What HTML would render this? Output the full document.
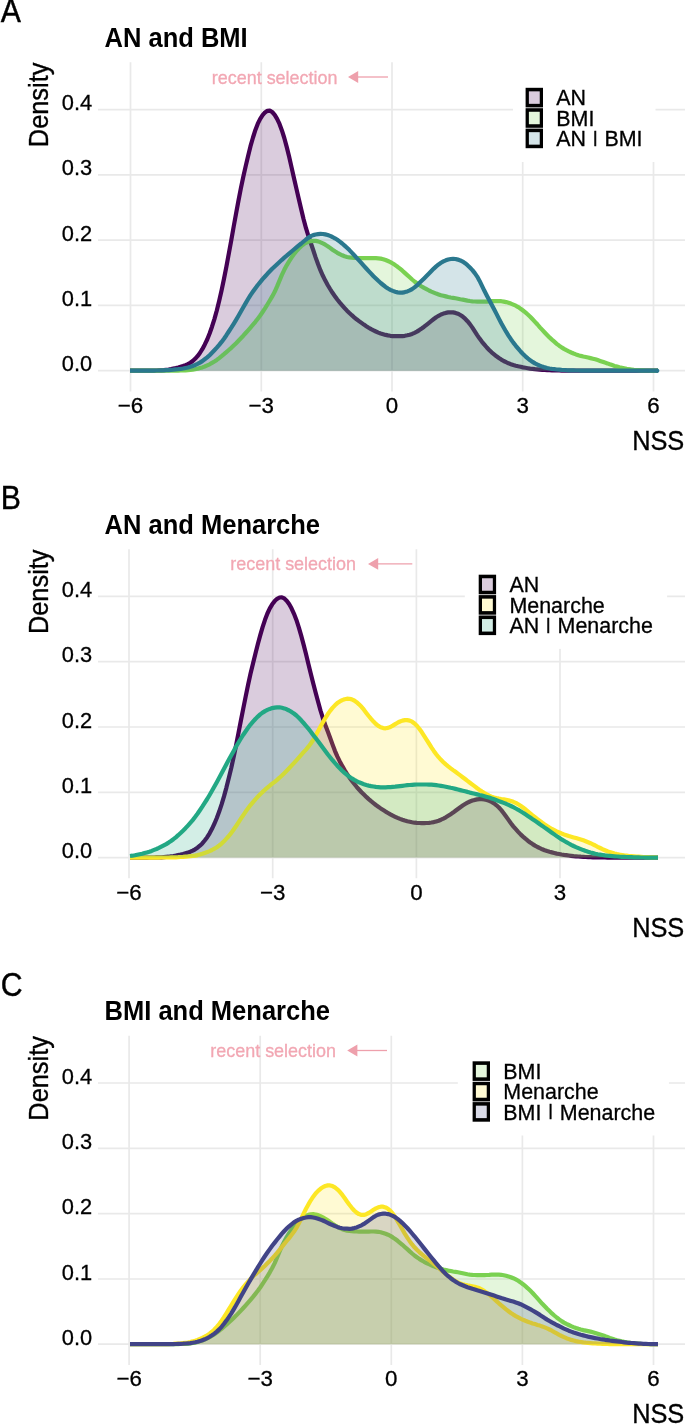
<!DOCTYPE html>
<html lang="en"><head><meta charset="utf-8"><title>NSS density</title>
<style>
html,body{margin:0;padding:0;background:#fff}
svg{display:block}
text{font-family:"Liberation Sans","Helvetica Neue",Helvetica,Arial,sans-serif;fill:#000}
.tk{font-size:22.3px;stroke:#000;stroke-width:.3px}
.ax{font-size:27px;stroke:#000;stroke-width:.35px}
.tt{font-size:27.3px;font-weight:bold}
.tg{font-size:32.5px;stroke:#000;stroke-width:.4px}
.an{font-size:19px;fill:#F2A7B3;stroke:#F2A7B3;stroke-width:.3px}
.lg{font-size:22px;stroke:#000;stroke-width:.3px}
.bar{font-size:16.2px;stroke:#000;stroke-width:.6px}
.grid line{stroke:#E9E9E9;stroke-width:1.7}
.ln{fill:none;stroke-width:4.2;stroke-linejoin:round;stroke-linecap:butt}
.ar{fill-opacity:.2;stroke:none}
.key{stroke:#000;stroke-width:3.5}
</style></head><body>
<svg width="685" height="1424" viewBox="0 0 685 1424">
<rect width="685" height="1424" fill="#fff"/>

<g id="panelA">
<text class="tg" transform="translate(0.8,22.3) scale(0.93,1)">A</text>
<text class="tt" transform="translate(104.6,46.9) scale(0.935,1)">AN and BMI</text>
<g class="grid"><line x1="130.5" x2="130.5" y1="62.3" y2="391.4"/><line x1="261.3" x2="261.3" y1="62.3" y2="391.4"/><line x1="392.0" x2="392.0" y1="62.3" y2="391.4"/><line x1="522.7" x2="522.7" y1="62.3" y2="391.4"/><line x1="653.5" x2="653.5" y1="62.3" y2="391.4"/><line x1="98" x2="685" y1="370.7" y2="370.7"/><line x1="98" x2="685" y1="305.4" y2="305.4"/><line x1="98" x2="685" y1="240.2" y2="240.2"/><line x1="98" x2="685" y1="174.9" y2="174.9"/><line x1="98" x2="685" y1="109.7" y2="109.7"/></g>
<text class="tk" text-anchor="end" transform="translate(92.2,371.2) scale(0.98,1)">0.0</text>
<text class="tk" text-anchor="end" transform="translate(92.2,305.9) scale(0.98,1)">0.1</text>
<text class="tk" text-anchor="end" transform="translate(92.2,240.7) scale(0.98,1)">0.2</text>
<text class="tk" text-anchor="end" transform="translate(92.2,175.4) scale(0.98,1)">0.3</text>
<text class="tk" text-anchor="end" transform="translate(92.2,110.2) scale(0.98,1)">0.4</text>
<text class="tk" text-anchor="middle" transform="translate(130.5,412.6)">−6</text>
<text class="tk" text-anchor="middle" transform="translate(261.3,412.6)">−3</text>
<text class="tk" text-anchor="middle" transform="translate(392.0,412.6)">0</text>
<text class="tk" text-anchor="middle" transform="translate(522.7,412.6)">3</text>
<text class="tk" text-anchor="middle" transform="translate(653.5,412.6)">6</text>
<text class="ax" text-anchor="end" transform="translate(48.0,62.6) rotate(-90) scale(0.94,1)">Density</text>
<text class="ax" text-anchor="end" transform="translate(684.3,449.6) scale(0.94,1)">NSS</text>
<text class="an" transform="translate(211.8,83.5) scale(0.945,1)">recent selection</text>
<path d="M357,77.0 H388" stroke="#EEA0AC" stroke-width="1.3" fill="none"/>
<path d="M348,77.0 L358.2,71.1 V82.9 Z" fill="#EEA0AC"/>
<path class="ar" fill="#440154" d="M130.0,370.7 L132.4,370.7 L134.8,370.7 L137.2,370.7 L139.6,370.7 L142.1,370.7 L144.5,370.7 L146.9,370.7 L149.3,370.6 L151.7,370.6 L154.1,370.6 L156.5,370.5 L158.9,370.4 L161.3,370.3 L163.8,370.1 L166.2,369.8 L168.6,369.5 L171.0,369.1 L173.4,368.6 L175.8,368.1 L178.2,367.5 L180.6,366.8 L183.0,366.1 L185.5,365.2 L187.9,364.1 L190.3,362.7 L192.7,361.0 L195.1,358.8 L197.5,356.2 L199.9,353.0 L202.3,349.2 L204.7,344.7 L207.2,339.5 L209.6,333.5 L212.0,326.7 L214.4,319.1 L216.8,310.5 L219.2,300.8 L221.6,290.2 L224.0,278.8 L226.4,266.6 L228.8,253.6 L231.3,240.1 L233.7,226.5 L236.1,213.3 L238.5,200.5 L240.9,188.2 L243.3,176.8 L245.7,166.1 L248.1,155.9 L250.5,146.2 L253.0,137.5 L255.4,129.9 L257.8,123.7 L260.2,118.8 L262.6,115.1 L265.0,112.4 L267.4,110.8 L269.8,110.6 L272.2,112.0 L274.7,114.8 L277.1,118.8 L279.5,123.9 L281.9,130.4 L284.3,138.0 L286.7,146.9 L289.1,156.6 L291.5,167.1 L293.9,177.8 L296.4,188.6 L298.8,199.0 L301.2,209.2 L303.6,219.2 L306.0,228.2 L308.4,236.0 L310.8,243.0 L313.2,250.0 L315.6,257.4 L318.1,264.3 L320.5,270.4 L322.9,275.8 L325.3,280.6 L327.7,285.0 L330.1,289.0 L332.5,292.8 L334.9,296.2 L337.3,299.5 L339.8,302.6 L342.2,305.4 L344.6,308.1 L347.0,310.7 L349.4,313.0 L351.8,315.2 L354.2,317.3 L356.6,319.3 L359.0,321.1 L361.5,322.9 L363.9,324.6 L366.3,326.2 L368.7,327.7 L371.1,329.1 L373.5,330.3 L375.9,331.5 L378.3,332.6 L380.7,333.5 L383.2,334.2 L385.6,334.9 L388.0,335.4 L390.4,335.8 L392.8,336.1 L395.2,336.2 L397.6,336.2 L400.0,336.2 L402.4,336.1 L404.8,335.8 L407.3,335.3 L409.7,334.7 L412.1,333.9 L414.5,332.8 L416.9,331.6 L419.3,330.1 L421.7,328.5 L424.1,326.7 L426.5,324.8 L429.0,322.8 L431.4,320.9 L433.8,319.0 L436.2,317.2 L438.6,315.8 L441.0,314.5 L443.4,313.6 L445.8,312.9 L448.2,312.4 L450.7,312.3 L453.1,312.4 L455.5,312.9 L457.9,313.7 L460.3,315.0 L462.7,316.6 L465.1,318.7 L467.5,321.2 L469.9,324.1 L472.4,327.6 L474.8,331.4 L477.2,335.1 L479.6,338.6 L482.0,341.8 L484.4,344.7 L486.8,347.5 L489.2,350.0 L491.6,352.3 L494.1,354.3 L496.5,356.3 L498.9,358.0 L501.3,359.6 L503.7,361.0 L506.1,362.2 L508.5,363.3 L510.9,364.2 L513.3,365.0 L515.8,365.7 L518.2,366.3 L520.6,366.8 L523.0,367.4 L525.4,367.8 L527.8,368.2 L530.2,368.6 L532.6,368.9 L535.0,369.2 L537.5,369.4 L539.9,369.6 L542.3,369.8 L544.7,370.0 L547.1,370.1 L549.5,370.2 L551.9,370.3 L554.3,370.4 L556.7,370.5 L559.2,370.5 L561.6,370.6 L564.0,370.6 L566.4,370.7 L568.8,370.7 L571.2,370.7 L573.6,370.7 L576.0,370.7 L578.4,370.7 L580.8,370.7 L583.3,370.7 L585.7,370.7 L588.1,370.7 L590.5,370.7 L592.9,370.7 L595.3,370.7 L597.7,370.7 L600.1,370.7 L602.5,370.7 L605.0,370.7 L607.4,370.7 L609.8,370.7 L612.2,370.7 L614.6,370.7 L617.0,370.7 L619.4,370.7 L621.8,370.7 L624.2,370.7 L626.7,370.7 L629.1,370.7 L631.5,370.7 L633.9,370.7 L636.3,370.7 L638.7,370.7 L641.1,370.7 L643.5,370.7 L645.9,370.7 L648.4,370.7 L650.8,370.7 L653.2,370.7 L655.6,370.7 L658.0,370.7 L658.0,370.7 L130.0,370.7 Z"/>
<path class="ln" stroke="#440154" d="M130.0,370.7 L132.4,370.7 L134.8,370.7 L137.2,370.7 L139.6,370.7 L142.1,370.7 L144.5,370.7 L146.9,370.7 L149.3,370.6 L151.7,370.6 L154.1,370.6 L156.5,370.5 L158.9,370.4 L161.3,370.3 L163.8,370.1 L166.2,369.8 L168.6,369.5 L171.0,369.1 L173.4,368.6 L175.8,368.1 L178.2,367.5 L180.6,366.8 L183.0,366.1 L185.5,365.2 L187.9,364.1 L190.3,362.7 L192.7,361.0 L195.1,358.8 L197.5,356.2 L199.9,353.0 L202.3,349.2 L204.7,344.7 L207.2,339.5 L209.6,333.5 L212.0,326.7 L214.4,319.1 L216.8,310.5 L219.2,300.8 L221.6,290.2 L224.0,278.8 L226.4,266.6 L228.8,253.6 L231.3,240.1 L233.7,226.5 L236.1,213.3 L238.5,200.5 L240.9,188.2 L243.3,176.8 L245.7,166.1 L248.1,155.9 L250.5,146.2 L253.0,137.5 L255.4,129.9 L257.8,123.7 L260.2,118.8 L262.6,115.1 L265.0,112.4 L267.4,110.8 L269.8,110.6 L272.2,112.0 L274.7,114.8 L277.1,118.8 L279.5,123.9 L281.9,130.4 L284.3,138.0 L286.7,146.9 L289.1,156.6 L291.5,167.1 L293.9,177.8 L296.4,188.6 L298.8,199.0 L301.2,209.2 L303.6,219.2 L306.0,228.2 L308.4,236.0 L310.8,243.0 L313.2,250.0 L315.6,257.4 L318.1,264.3 L320.5,270.4 L322.9,275.8 L325.3,280.6 L327.7,285.0 L330.1,289.0 L332.5,292.8 L334.9,296.2 L337.3,299.5 L339.8,302.6 L342.2,305.4 L344.6,308.1 L347.0,310.7 L349.4,313.0 L351.8,315.2 L354.2,317.3 L356.6,319.3 L359.0,321.1 L361.5,322.9 L363.9,324.6 L366.3,326.2 L368.7,327.7 L371.1,329.1 L373.5,330.3 L375.9,331.5 L378.3,332.6 L380.7,333.5 L383.2,334.2 L385.6,334.9 L388.0,335.4 L390.4,335.8 L392.8,336.1 L395.2,336.2 L397.6,336.2 L400.0,336.2 L402.4,336.1 L404.8,335.8 L407.3,335.3 L409.7,334.7 L412.1,333.9 L414.5,332.8 L416.9,331.6 L419.3,330.1 L421.7,328.5 L424.1,326.7 L426.5,324.8 L429.0,322.8 L431.4,320.9 L433.8,319.0 L436.2,317.2 L438.6,315.8 L441.0,314.5 L443.4,313.6 L445.8,312.9 L448.2,312.4 L450.7,312.3 L453.1,312.4 L455.5,312.9 L457.9,313.7 L460.3,315.0 L462.7,316.6 L465.1,318.7 L467.5,321.2 L469.9,324.1 L472.4,327.6 L474.8,331.4 L477.2,335.1 L479.6,338.6 L482.0,341.8 L484.4,344.7 L486.8,347.5 L489.2,350.0 L491.6,352.3 L494.1,354.3 L496.5,356.3 L498.9,358.0 L501.3,359.6 L503.7,361.0 L506.1,362.2 L508.5,363.3 L510.9,364.2 L513.3,365.0 L515.8,365.7 L518.2,366.3 L520.6,366.8 L523.0,367.4 L525.4,367.8 L527.8,368.2 L530.2,368.6 L532.6,368.9 L535.0,369.2 L537.5,369.4 L539.9,369.6 L542.3,369.8 L544.7,370.0 L547.1,370.1 L549.5,370.2 L551.9,370.3 L554.3,370.4 L556.7,370.5 L559.2,370.5 L561.6,370.6 L564.0,370.6 L566.4,370.7 L568.8,370.7 L571.2,370.7 L573.6,370.7 L576.0,370.7 L578.4,370.7 L580.8,370.7 L583.3,370.7 L585.7,370.7 L588.1,370.7 L590.5,370.7 L592.9,370.7 L595.3,370.7 L597.7,370.7 L600.1,370.7 L602.5,370.7 L605.0,370.7 L607.4,370.7 L609.8,370.7 L612.2,370.7 L614.6,370.7 L617.0,370.7 L619.4,370.7 L621.8,370.7 L624.2,370.7 L626.7,370.7 L629.1,370.7 L631.5,370.7 L633.9,370.7 L636.3,370.7 L638.7,370.7 L641.1,370.7 L643.5,370.7 L645.9,370.7 L648.4,370.7 L650.8,370.7 L653.2,370.7 L655.6,370.7 L658.0,370.7"/>
<path class="ar" fill="#7AD151" d="M130.0,370.7 L132.4,370.7 L134.8,370.7 L137.2,370.7 L139.6,370.7 L142.1,370.7 L144.5,370.7 L146.9,370.7 L149.3,370.7 L151.7,370.7 L154.1,370.7 L156.5,370.7 L158.9,370.7 L161.3,370.7 L163.8,370.7 L166.2,370.7 L168.6,370.7 L171.0,370.7 L173.4,370.6 L175.8,370.6 L178.2,370.6 L180.6,370.5 L183.0,370.4 L185.5,370.4 L187.9,370.2 L190.3,370.0 L192.7,369.7 L195.1,369.3 L197.5,368.8 L199.9,368.1 L202.3,367.4 L204.7,366.5 L207.2,365.4 L209.6,364.3 L212.0,362.9 L214.4,361.5 L216.8,359.9 L219.2,358.1 L221.6,356.2 L224.0,354.2 L226.4,352.1 L228.8,350.0 L231.3,347.8 L233.7,345.5 L236.1,343.2 L238.5,340.7 L240.9,338.2 L243.3,335.7 L245.7,333.0 L248.1,330.3 L250.5,327.6 L253.0,324.7 L255.4,321.8 L257.8,318.7 L260.2,315.5 L262.6,312.0 L265.0,308.4 L267.4,304.5 L269.8,300.5 L272.2,296.4 L274.7,291.8 L277.1,286.4 L279.5,280.6 L281.9,274.9 L284.3,269.8 L286.7,265.3 L289.1,261.3 L291.5,257.6 L293.9,254.2 L296.4,251.2 L298.8,248.5 L301.2,246.2 L303.6,244.3 L306.0,242.8 L308.4,241.8 L310.8,241.1 L313.2,240.8 L315.6,240.9 L318.1,241.4 L320.5,242.3 L322.9,243.4 L325.3,244.7 L327.7,246.2 L330.1,247.9 L332.5,249.7 L334.9,251.3 L337.3,252.8 L339.8,254.2 L342.2,255.3 L344.6,256.3 L347.0,257.0 L349.4,257.4 L351.8,257.7 L354.2,257.9 L356.6,258.0 L359.0,258.1 L361.5,258.2 L363.9,258.2 L366.3,258.2 L368.7,258.1 L371.1,258.1 L373.5,258.1 L375.9,258.1 L378.3,258.3 L380.7,258.6 L383.2,259.2 L385.6,260.0 L388.0,261.0 L390.4,262.1 L392.8,263.5 L395.2,265.1 L397.6,266.8 L400.0,268.7 L402.4,270.7 L404.8,272.9 L407.3,275.1 L409.7,277.3 L412.1,279.5 L414.5,281.5 L416.9,283.3 L419.3,285.0 L421.7,286.5 L424.1,287.9 L426.5,289.2 L429.0,290.5 L431.4,291.6 L433.8,292.6 L436.2,293.6 L438.6,294.4 L441.0,295.2 L443.4,295.8 L445.8,296.4 L448.2,297.0 L450.7,297.5 L453.1,297.9 L455.5,298.3 L457.9,298.7 L460.3,299.2 L462.7,299.6 L465.1,300.1 L467.5,300.6 L469.9,301.0 L472.4,301.3 L474.8,301.5 L477.2,301.6 L479.6,301.7 L482.0,301.7 L484.4,301.6 L486.8,301.6 L489.2,301.4 L491.6,301.2 L494.1,301.1 L496.5,301.0 L498.9,301.1 L501.3,301.2 L503.7,301.6 L506.1,302.1 L508.5,302.8 L510.9,303.6 L513.3,304.6 L515.8,305.7 L518.2,307.1 L520.6,308.7 L523.0,310.5 L525.4,312.4 L527.8,314.5 L530.2,316.7 L532.6,319.2 L535.0,321.8 L537.5,324.5 L539.9,327.3 L542.3,329.9 L544.7,332.5 L547.1,335.0 L549.5,337.4 L551.9,339.6 L554.3,341.7 L556.7,343.8 L559.2,345.7 L561.6,347.4 L564.0,348.9 L566.4,350.2 L568.8,351.4 L571.2,352.5 L573.6,353.5 L576.0,354.4 L578.4,355.2 L580.8,355.9 L583.3,356.5 L585.7,357.0 L588.1,357.5 L590.5,358.1 L592.9,358.7 L595.3,359.3 L597.7,360.1 L600.1,360.9 L602.5,361.7 L605.0,362.6 L607.4,363.4 L609.8,364.3 L612.2,365.1 L614.6,365.9 L617.0,366.6 L619.4,367.3 L621.8,367.8 L624.2,368.3 L626.7,368.8 L629.1,369.2 L631.5,369.5 L633.9,369.8 L636.3,370.0 L638.7,370.2 L641.1,370.3 L643.5,370.4 L645.9,370.5 L648.4,370.5 L650.8,370.6 L653.2,370.6 L655.6,370.6 L658.0,370.7 L658.0,370.7 L130.0,370.7 Z"/>
<path class="ln" stroke="#7AD151" d="M130.0,370.7 L132.4,370.7 L134.8,370.7 L137.2,370.7 L139.6,370.7 L142.1,370.7 L144.5,370.7 L146.9,370.7 L149.3,370.7 L151.7,370.7 L154.1,370.7 L156.5,370.7 L158.9,370.7 L161.3,370.7 L163.8,370.7 L166.2,370.7 L168.6,370.7 L171.0,370.7 L173.4,370.6 L175.8,370.6 L178.2,370.6 L180.6,370.5 L183.0,370.4 L185.5,370.4 L187.9,370.2 L190.3,370.0 L192.7,369.7 L195.1,369.3 L197.5,368.8 L199.9,368.1 L202.3,367.4 L204.7,366.5 L207.2,365.4 L209.6,364.3 L212.0,362.9 L214.4,361.5 L216.8,359.9 L219.2,358.1 L221.6,356.2 L224.0,354.2 L226.4,352.1 L228.8,350.0 L231.3,347.8 L233.7,345.5 L236.1,343.2 L238.5,340.7 L240.9,338.2 L243.3,335.7 L245.7,333.0 L248.1,330.3 L250.5,327.6 L253.0,324.7 L255.4,321.8 L257.8,318.7 L260.2,315.5 L262.6,312.0 L265.0,308.4 L267.4,304.5 L269.8,300.5 L272.2,296.4 L274.7,291.8 L277.1,286.4 L279.5,280.6 L281.9,274.9 L284.3,269.8 L286.7,265.3 L289.1,261.3 L291.5,257.6 L293.9,254.2 L296.4,251.2 L298.8,248.5 L301.2,246.2 L303.6,244.3 L306.0,242.8 L308.4,241.8 L310.8,241.1 L313.2,240.8 L315.6,240.9 L318.1,241.4 L320.5,242.3 L322.9,243.4 L325.3,244.7 L327.7,246.2 L330.1,247.9 L332.5,249.7 L334.9,251.3 L337.3,252.8 L339.8,254.2 L342.2,255.3 L344.6,256.3 L347.0,257.0 L349.4,257.4 L351.8,257.7 L354.2,257.9 L356.6,258.0 L359.0,258.1 L361.5,258.2 L363.9,258.2 L366.3,258.2 L368.7,258.1 L371.1,258.1 L373.5,258.1 L375.9,258.1 L378.3,258.3 L380.7,258.6 L383.2,259.2 L385.6,260.0 L388.0,261.0 L390.4,262.1 L392.8,263.5 L395.2,265.1 L397.6,266.8 L400.0,268.7 L402.4,270.7 L404.8,272.9 L407.3,275.1 L409.7,277.3 L412.1,279.5 L414.5,281.5 L416.9,283.3 L419.3,285.0 L421.7,286.5 L424.1,287.9 L426.5,289.2 L429.0,290.5 L431.4,291.6 L433.8,292.6 L436.2,293.6 L438.6,294.4 L441.0,295.2 L443.4,295.8 L445.8,296.4 L448.2,297.0 L450.7,297.5 L453.1,297.9 L455.5,298.3 L457.9,298.7 L460.3,299.2 L462.7,299.6 L465.1,300.1 L467.5,300.6 L469.9,301.0 L472.4,301.3 L474.8,301.5 L477.2,301.6 L479.6,301.7 L482.0,301.7 L484.4,301.6 L486.8,301.6 L489.2,301.4 L491.6,301.2 L494.1,301.1 L496.5,301.0 L498.9,301.1 L501.3,301.2 L503.7,301.6 L506.1,302.1 L508.5,302.8 L510.9,303.6 L513.3,304.6 L515.8,305.7 L518.2,307.1 L520.6,308.7 L523.0,310.5 L525.4,312.4 L527.8,314.5 L530.2,316.7 L532.6,319.2 L535.0,321.8 L537.5,324.5 L539.9,327.3 L542.3,329.9 L544.7,332.5 L547.1,335.0 L549.5,337.4 L551.9,339.6 L554.3,341.7 L556.7,343.8 L559.2,345.7 L561.6,347.4 L564.0,348.9 L566.4,350.2 L568.8,351.4 L571.2,352.5 L573.6,353.5 L576.0,354.4 L578.4,355.2 L580.8,355.9 L583.3,356.5 L585.7,357.0 L588.1,357.5 L590.5,358.1 L592.9,358.7 L595.3,359.3 L597.7,360.1 L600.1,360.9 L602.5,361.7 L605.0,362.6 L607.4,363.4 L609.8,364.3 L612.2,365.1 L614.6,365.9 L617.0,366.6 L619.4,367.3 L621.8,367.8 L624.2,368.3 L626.7,368.8 L629.1,369.2 L631.5,369.5 L633.9,369.8 L636.3,370.0 L638.7,370.2 L641.1,370.3 L643.5,370.4 L645.9,370.5 L648.4,370.5 L650.8,370.6 L653.2,370.6 L655.6,370.6 L658.0,370.7"/>
<path class="ar" fill="#2A788E" d="M130.0,370.7 L132.4,370.7 L134.8,370.7 L137.2,370.7 L139.6,370.7 L142.1,370.7 L144.5,370.7 L146.9,370.7 L149.3,370.6 L151.7,370.6 L154.1,370.6 L156.5,370.5 L158.9,370.5 L161.3,370.4 L163.8,370.4 L166.2,370.2 L168.6,370.1 L171.0,369.9 L173.4,369.7 L175.8,369.4 L178.2,369.2 L180.6,368.9 L183.0,368.5 L185.5,368.0 L187.9,367.5 L190.3,366.8 L192.7,366.0 L195.1,365.0 L197.5,363.9 L199.9,362.6 L202.3,361.1 L204.7,359.3 L207.2,357.4 L209.6,355.2 L212.0,352.8 L214.4,350.3 L216.8,347.7 L219.2,344.9 L221.6,341.9 L224.0,338.7 L226.4,335.2 L228.8,331.5 L231.3,327.7 L233.7,323.8 L236.1,319.8 L238.5,315.7 L240.9,311.5 L243.3,307.2 L245.7,303.1 L248.1,299.0 L250.5,295.1 L253.0,291.5 L255.4,288.2 L257.8,285.0 L260.2,282.1 L262.6,279.2 L265.0,276.5 L267.4,273.8 L269.8,271.3 L272.2,268.8 L274.7,266.5 L277.1,264.2 L279.5,262.0 L281.9,259.8 L284.3,257.7 L286.7,255.7 L289.1,253.6 L291.5,251.5 L293.9,249.5 L296.4,247.4 L298.8,245.4 L301.2,243.5 L303.6,241.5 L306.0,239.5 L308.4,237.6 L310.8,236.1 L313.2,235.1 L315.6,234.5 L318.1,234.1 L320.5,233.9 L322.9,234.0 L325.3,234.4 L327.7,235.0 L330.1,235.9 L332.5,237.0 L334.9,238.3 L337.3,239.8 L339.8,241.6 L342.2,243.5 L344.6,245.6 L347.0,247.8 L349.4,250.1 L351.8,252.6 L354.2,255.2 L356.6,257.8 L359.0,260.4 L361.5,263.2 L363.9,265.9 L366.3,268.5 L368.7,271.1 L371.1,273.7 L373.5,276.2 L375.9,278.5 L378.3,280.8 L380.7,283.0 L383.2,285.0 L385.6,286.9 L388.0,288.5 L390.4,289.8 L392.8,290.9 L395.2,291.8 L397.6,292.4 L400.0,292.7 L402.4,292.6 L404.8,292.1 L407.3,291.4 L409.7,290.4 L412.1,289.1 L414.5,287.4 L416.9,285.4 L419.3,283.1 L421.7,280.8 L424.1,278.4 L426.5,276.0 L429.0,273.5 L431.4,271.0 L433.8,268.6 L436.2,266.4 L438.6,264.4 L441.0,262.8 L443.4,261.4 L445.8,260.3 L448.2,259.5 L450.7,259.0 L453.1,258.8 L455.5,259.0 L457.9,259.6 L460.3,260.4 L462.7,261.6 L465.1,263.2 L467.5,265.2 L469.9,267.5 L472.4,270.1 L474.8,273.1 L477.2,276.6 L479.6,280.9 L482.0,285.8 L484.4,290.8 L486.8,295.5 L489.2,300.0 L491.6,304.5 L494.1,309.2 L496.5,313.9 L498.9,318.6 L501.3,323.2 L503.7,327.5 L506.1,331.7 L508.5,335.6 L510.9,339.2 L513.3,342.6 L515.8,345.8 L518.2,348.7 L520.6,351.5 L523.0,354.0 L525.4,356.3 L527.8,358.4 L530.2,360.3 L532.6,361.9 L535.0,363.4 L537.5,364.6 L539.9,365.7 L542.3,366.6 L544.7,367.4 L547.1,368.0 L549.5,368.5 L551.9,368.9 L554.3,369.2 L556.7,369.5 L559.2,369.7 L561.6,369.9 L564.0,370.0 L566.4,370.2 L568.8,370.3 L571.2,370.3 L573.6,370.4 L576.0,370.5 L578.4,370.5 L580.8,370.6 L583.3,370.6 L585.7,370.7 L588.1,370.7 L590.5,370.7 L592.9,370.7 L595.3,370.7 L597.7,370.7 L600.1,370.7 L602.5,370.7 L605.0,370.7 L607.4,370.7 L609.8,370.7 L612.2,370.7 L614.6,370.7 L617.0,370.7 L619.4,370.7 L621.8,370.7 L624.2,370.7 L626.7,370.7 L629.1,370.7 L631.5,370.7 L633.9,370.7 L636.3,370.7 L638.7,370.7 L641.1,370.7 L643.5,370.7 L645.9,370.7 L648.4,370.7 L650.8,370.7 L653.2,370.7 L655.6,370.7 L658.0,370.7 L658.0,370.7 L130.0,370.7 Z"/>
<path class="ln" stroke="#2A788E" d="M130.0,370.7 L132.4,370.7 L134.8,370.7 L137.2,370.7 L139.6,370.7 L142.1,370.7 L144.5,370.7 L146.9,370.7 L149.3,370.6 L151.7,370.6 L154.1,370.6 L156.5,370.5 L158.9,370.5 L161.3,370.4 L163.8,370.4 L166.2,370.2 L168.6,370.1 L171.0,369.9 L173.4,369.7 L175.8,369.4 L178.2,369.2 L180.6,368.9 L183.0,368.5 L185.5,368.0 L187.9,367.5 L190.3,366.8 L192.7,366.0 L195.1,365.0 L197.5,363.9 L199.9,362.6 L202.3,361.1 L204.7,359.3 L207.2,357.4 L209.6,355.2 L212.0,352.8 L214.4,350.3 L216.8,347.7 L219.2,344.9 L221.6,341.9 L224.0,338.7 L226.4,335.2 L228.8,331.5 L231.3,327.7 L233.7,323.8 L236.1,319.8 L238.5,315.7 L240.9,311.5 L243.3,307.2 L245.7,303.1 L248.1,299.0 L250.5,295.1 L253.0,291.5 L255.4,288.2 L257.8,285.0 L260.2,282.1 L262.6,279.2 L265.0,276.5 L267.4,273.8 L269.8,271.3 L272.2,268.8 L274.7,266.5 L277.1,264.2 L279.5,262.0 L281.9,259.8 L284.3,257.7 L286.7,255.7 L289.1,253.6 L291.5,251.5 L293.9,249.5 L296.4,247.4 L298.8,245.4 L301.2,243.5 L303.6,241.5 L306.0,239.5 L308.4,237.6 L310.8,236.1 L313.2,235.1 L315.6,234.5 L318.1,234.1 L320.5,233.9 L322.9,234.0 L325.3,234.4 L327.7,235.0 L330.1,235.9 L332.5,237.0 L334.9,238.3 L337.3,239.8 L339.8,241.6 L342.2,243.5 L344.6,245.6 L347.0,247.8 L349.4,250.1 L351.8,252.6 L354.2,255.2 L356.6,257.8 L359.0,260.4 L361.5,263.2 L363.9,265.9 L366.3,268.5 L368.7,271.1 L371.1,273.7 L373.5,276.2 L375.9,278.5 L378.3,280.8 L380.7,283.0 L383.2,285.0 L385.6,286.9 L388.0,288.5 L390.4,289.8 L392.8,290.9 L395.2,291.8 L397.6,292.4 L400.0,292.7 L402.4,292.6 L404.8,292.1 L407.3,291.4 L409.7,290.4 L412.1,289.1 L414.5,287.4 L416.9,285.4 L419.3,283.1 L421.7,280.8 L424.1,278.4 L426.5,276.0 L429.0,273.5 L431.4,271.0 L433.8,268.6 L436.2,266.4 L438.6,264.4 L441.0,262.8 L443.4,261.4 L445.8,260.3 L448.2,259.5 L450.7,259.0 L453.1,258.8 L455.5,259.0 L457.9,259.6 L460.3,260.4 L462.7,261.6 L465.1,263.2 L467.5,265.2 L469.9,267.5 L472.4,270.1 L474.8,273.1 L477.2,276.6 L479.6,280.9 L482.0,285.8 L484.4,290.8 L486.8,295.5 L489.2,300.0 L491.6,304.5 L494.1,309.2 L496.5,313.9 L498.9,318.6 L501.3,323.2 L503.7,327.5 L506.1,331.7 L508.5,335.6 L510.9,339.2 L513.3,342.6 L515.8,345.8 L518.2,348.7 L520.6,351.5 L523.0,354.0 L525.4,356.3 L527.8,358.4 L530.2,360.3 L532.6,361.9 L535.0,363.4 L537.5,364.6 L539.9,365.7 L542.3,366.6 L544.7,367.4 L547.1,368.0 L549.5,368.5 L551.9,368.9 L554.3,369.2 L556.7,369.5 L559.2,369.7 L561.6,369.9 L564.0,370.0 L566.4,370.2 L568.8,370.3 L571.2,370.3 L573.6,370.4 L576.0,370.5 L578.4,370.5 L580.8,370.6 L583.3,370.6 L585.7,370.7 L588.1,370.7 L590.5,370.7 L592.9,370.7 L595.3,370.7 L597.7,370.7 L600.1,370.7 L602.5,370.7 L605.0,370.7 L607.4,370.7 L609.8,370.7 L612.2,370.7 L614.6,370.7 L617.0,370.7 L619.4,370.7 L621.8,370.7 L624.2,370.7 L626.7,370.7 L629.1,370.7 L631.5,370.7 L633.9,370.7 L636.3,370.7 L638.7,370.7 L641.1,370.7 L643.5,370.7 L645.9,370.7 L648.4,370.7 L650.8,370.7 L653.2,370.7 L655.6,370.7 L658.0,370.7"/>
<circle cx="657.3" cy="370.8" r="2.1" fill="#2A788E"/>
<rect x="513" y="60.0" width="142.5" height="102" fill="#fff"/>
<rect x="525.6" y="87.8" width="17.4" height="19.6" fill="#000"/>
<rect x="528.9" y="91.4" width="10.8" height="12.4" fill="#fff"/>
<rect x="528.9" y="91.4" width="10.8" height="12.4" fill="#440154" fill-opacity=".2"/>
<text class="lg" transform="translate(556.3,105.1) scale(0.975,1)">AN</text>
<rect x="525.6" y="108.2" width="17.4" height="19.6" fill="#000"/>
<rect x="528.9" y="111.8" width="10.8" height="12.4" fill="#fff"/>
<rect x="528.9" y="111.8" width="10.8" height="12.4" fill="#7AD151" fill-opacity=".2"/>
<text class="lg" transform="translate(556.3,125.6) scale(0.975,1)">BMI</text>
<rect x="525.6" y="128.6" width="17.4" height="19.6" fill="#000"/>
<rect x="528.9" y="132.2" width="10.8" height="12.4" fill="#fff"/>
<rect x="528.9" y="132.2" width="10.8" height="12.4" fill="#2A788E" fill-opacity=".2"/>
<text class="lg" transform="translate(556.3,146.1) scale(0.975,1)">AN <tspan class="bar" dx="1.2" dy="-3.4">|</tspan><tspan dx="1.2" dy="3.4"> </tspan>BMI</text>
</g>
<g id="panelB">
<text class="tg" transform="translate(0.8,509.2) scale(0.93,1)">B</text>
<text class="tt" transform="translate(104.6,533.8) scale(0.935,1)">AN and Menarche</text>
<g class="grid"><line x1="129.0" x2="129.0" y1="549.2" y2="878.3"/><line x1="272.7" x2="272.7" y1="549.2" y2="878.3"/><line x1="416.4" x2="416.4" y1="549.2" y2="878.3"/><line x1="560.0" x2="560.0" y1="549.2" y2="878.3"/><line x1="98" x2="685" y1="857.6" y2="857.6"/><line x1="98" x2="685" y1="792.3" y2="792.3"/><line x1="98" x2="685" y1="727.0" y2="727.0"/><line x1="98" x2="685" y1="661.7" y2="661.7"/><line x1="98" x2="685" y1="596.4" y2="596.4"/></g>
<text class="tk" text-anchor="end" transform="translate(92.2,858.1) scale(0.98,1)">0.0</text>
<text class="tk" text-anchor="end" transform="translate(92.2,792.8) scale(0.98,1)">0.1</text>
<text class="tk" text-anchor="end" transform="translate(92.2,727.5) scale(0.98,1)">0.2</text>
<text class="tk" text-anchor="end" transform="translate(92.2,662.2) scale(0.98,1)">0.3</text>
<text class="tk" text-anchor="end" transform="translate(92.2,596.9) scale(0.98,1)">0.4</text>
<text class="tk" text-anchor="middle" transform="translate(129.0,899.5)">−6</text>
<text class="tk" text-anchor="middle" transform="translate(272.7,899.5)">−3</text>
<text class="tk" text-anchor="middle" transform="translate(416.4,899.5)">0</text>
<text class="tk" text-anchor="middle" transform="translate(560.0,899.5)">3</text>
<text class="ax" text-anchor="end" transform="translate(48.0,549.5) rotate(-90) scale(0.94,1)">Density</text>
<text class="ax" text-anchor="end" transform="translate(684.3,936.5) scale(0.94,1)">NSS</text>
<text class="an" transform="translate(230.3,570.4) scale(0.945,1)">recent selection</text>
<path d="M377,563.9 H412.3" stroke="#EEA0AC" stroke-width="1.3" fill="none"/>
<path d="M368,563.9 L378.2,558.0 V569.8 Z" fill="#EEA0AC"/>
<path class="ar" fill="#440154" d="M130.0,857.6 L132.4,857.6 L134.8,857.6 L137.2,857.6 L139.6,857.6 L142.1,857.6 L144.5,857.6 L146.9,857.6 L149.3,857.5 L151.7,857.5 L154.1,857.5 L156.5,857.4 L158.9,857.4 L161.3,857.3 L163.8,857.1 L166.2,856.9 L168.6,856.7 L171.0,856.3 L173.4,856.0 L175.8,855.6 L178.2,855.1 L180.6,854.6 L183.0,854.0 L185.5,853.3 L187.9,852.6 L190.3,851.7 L192.7,850.6 L195.1,849.3 L197.5,847.7 L199.9,845.7 L202.3,843.4 L204.7,840.5 L207.2,837.2 L209.6,833.3 L212.0,828.8 L214.4,823.7 L216.8,818.0 L219.2,811.6 L221.6,804.4 L224.0,796.4 L226.4,787.6 L228.8,777.9 L231.3,767.7 L233.7,756.8 L236.1,745.2 L238.5,732.9 L240.9,720.5 L243.3,708.3 L245.7,696.4 L248.1,684.8 L250.5,673.8 L253.0,663.4 L255.4,653.7 L257.8,644.3 L260.2,635.4 L262.6,627.1 L265.0,619.8 L267.4,613.5 L269.8,608.3 L272.2,604.3 L274.7,601.1 L277.1,598.8 L279.5,597.5 L281.9,597.3 L284.3,598.4 L286.7,600.7 L289.1,604.0 L291.5,608.3 L293.9,613.6 L296.4,619.9 L298.8,627.3 L301.2,635.6 L303.6,644.6 L306.0,654.1 L308.4,663.9 L310.8,673.7 L313.2,683.3 L315.6,692.6 L318.1,701.8 L320.5,710.5 L322.9,718.2 L325.3,725.0 L327.7,731.3 L330.1,737.8 L332.5,744.4 L334.9,750.8 L337.3,756.4 L339.8,761.4 L342.2,765.9 L344.6,770.1 L347.0,773.9 L349.4,777.4 L351.8,780.7 L354.2,783.8 L356.6,786.8 L359.0,789.5 L361.5,792.2 L363.9,794.6 L366.3,796.9 L368.7,799.1 L371.1,801.2 L373.5,803.1 L375.9,805.0 L378.3,806.7 L380.7,808.4 L383.2,810.0 L385.6,811.6 L388.0,813.0 L390.4,814.4 L392.8,815.7 L395.2,816.8 L397.6,817.9 L400.0,818.9 L402.4,819.8 L404.8,820.6 L407.3,821.3 L409.7,821.8 L412.1,822.3 L414.5,822.7 L416.9,822.9 L419.3,823.0 L421.7,823.1 L424.1,823.1 L426.5,823.0 L429.0,822.8 L431.4,822.5 L433.8,822.1 L436.2,821.4 L438.6,820.7 L441.0,819.7 L443.4,818.6 L445.8,817.3 L448.2,815.8 L450.7,814.2 L453.1,812.6 L455.5,810.8 L457.9,809.0 L460.3,807.2 L462.7,805.5 L465.1,804.0 L467.5,802.6 L469.9,801.5 L472.4,800.6 L474.8,799.9 L477.2,799.4 L479.6,799.2 L482.0,799.1 L484.4,799.4 L486.8,800.0 L489.2,800.8 L491.6,801.9 L494.1,803.4 L496.5,805.3 L498.9,807.5 L501.3,810.1 L503.7,813.2 L506.1,816.5 L508.5,819.9 L510.9,823.3 L513.3,826.4 L515.8,829.2 L518.2,831.9 L520.6,834.4 L523.0,836.6 L525.4,838.7 L527.8,840.7 L530.2,842.5 L532.6,844.1 L535.0,845.6 L537.5,847.0 L539.9,848.2 L542.3,849.3 L544.7,850.3 L547.1,851.1 L549.5,851.8 L551.9,852.4 L554.3,853.0 L556.7,853.6 L559.2,854.0 L561.6,854.5 L564.0,854.9 L566.4,855.2 L568.8,855.5 L571.2,855.8 L573.6,856.1 L576.0,856.3 L578.4,856.5 L580.8,856.7 L583.3,856.8 L585.7,857.0 L588.1,857.1 L590.5,857.2 L592.9,857.3 L595.3,857.3 L597.7,857.4 L600.1,857.4 L602.5,857.5 L605.0,857.5 L607.4,857.6 L609.8,857.6 L612.2,857.6 L614.6,857.6 L617.0,857.6 L619.4,857.6 L621.8,857.6 L624.2,857.6 L626.7,857.6 L629.1,857.6 L631.5,857.6 L633.9,857.6 L636.3,857.6 L638.7,857.6 L641.1,857.6 L643.5,857.6 L645.9,857.6 L648.4,857.6 L650.8,857.6 L653.2,857.6 L655.6,857.6 L658.0,857.6 L658.0,857.6 L130.0,857.6 Z"/>
<path class="ln" stroke="#440154" d="M130.0,857.6 L132.4,857.6 L134.8,857.6 L137.2,857.6 L139.6,857.6 L142.1,857.6 L144.5,857.6 L146.9,857.6 L149.3,857.5 L151.7,857.5 L154.1,857.5 L156.5,857.4 L158.9,857.4 L161.3,857.3 L163.8,857.1 L166.2,856.9 L168.6,856.7 L171.0,856.3 L173.4,856.0 L175.8,855.6 L178.2,855.1 L180.6,854.6 L183.0,854.0 L185.5,853.3 L187.9,852.6 L190.3,851.7 L192.7,850.6 L195.1,849.3 L197.5,847.7 L199.9,845.7 L202.3,843.4 L204.7,840.5 L207.2,837.2 L209.6,833.3 L212.0,828.8 L214.4,823.7 L216.8,818.0 L219.2,811.6 L221.6,804.4 L224.0,796.4 L226.4,787.6 L228.8,777.9 L231.3,767.7 L233.7,756.8 L236.1,745.2 L238.5,732.9 L240.9,720.5 L243.3,708.3 L245.7,696.4 L248.1,684.8 L250.5,673.8 L253.0,663.4 L255.4,653.7 L257.8,644.3 L260.2,635.4 L262.6,627.1 L265.0,619.8 L267.4,613.5 L269.8,608.3 L272.2,604.3 L274.7,601.1 L277.1,598.8 L279.5,597.5 L281.9,597.3 L284.3,598.4 L286.7,600.7 L289.1,604.0 L291.5,608.3 L293.9,613.6 L296.4,619.9 L298.8,627.3 L301.2,635.6 L303.6,644.6 L306.0,654.1 L308.4,663.9 L310.8,673.7 L313.2,683.3 L315.6,692.6 L318.1,701.8 L320.5,710.5 L322.9,718.2 L325.3,725.0 L327.7,731.3 L330.1,737.8 L332.5,744.4 L334.9,750.8 L337.3,756.4 L339.8,761.4 L342.2,765.9 L344.6,770.1 L347.0,773.9 L349.4,777.4 L351.8,780.7 L354.2,783.8 L356.6,786.8 L359.0,789.5 L361.5,792.2 L363.9,794.6 L366.3,796.9 L368.7,799.1 L371.1,801.2 L373.5,803.1 L375.9,805.0 L378.3,806.7 L380.7,808.4 L383.2,810.0 L385.6,811.6 L388.0,813.0 L390.4,814.4 L392.8,815.7 L395.2,816.8 L397.6,817.9 L400.0,818.9 L402.4,819.8 L404.8,820.6 L407.3,821.3 L409.7,821.8 L412.1,822.3 L414.5,822.7 L416.9,822.9 L419.3,823.0 L421.7,823.1 L424.1,823.1 L426.5,823.0 L429.0,822.8 L431.4,822.5 L433.8,822.1 L436.2,821.4 L438.6,820.7 L441.0,819.7 L443.4,818.6 L445.8,817.3 L448.2,815.8 L450.7,814.2 L453.1,812.6 L455.5,810.8 L457.9,809.0 L460.3,807.2 L462.7,805.5 L465.1,804.0 L467.5,802.6 L469.9,801.5 L472.4,800.6 L474.8,799.9 L477.2,799.4 L479.6,799.2 L482.0,799.1 L484.4,799.4 L486.8,800.0 L489.2,800.8 L491.6,801.9 L494.1,803.4 L496.5,805.3 L498.9,807.5 L501.3,810.1 L503.7,813.2 L506.1,816.5 L508.5,819.9 L510.9,823.3 L513.3,826.4 L515.8,829.2 L518.2,831.9 L520.6,834.4 L523.0,836.6 L525.4,838.7 L527.8,840.7 L530.2,842.5 L532.6,844.1 L535.0,845.6 L537.5,847.0 L539.9,848.2 L542.3,849.3 L544.7,850.3 L547.1,851.1 L549.5,851.8 L551.9,852.4 L554.3,853.0 L556.7,853.6 L559.2,854.0 L561.6,854.5 L564.0,854.9 L566.4,855.2 L568.8,855.5 L571.2,855.8 L573.6,856.1 L576.0,856.3 L578.4,856.5 L580.8,856.7 L583.3,856.8 L585.7,857.0 L588.1,857.1 L590.5,857.2 L592.9,857.3 L595.3,857.3 L597.7,857.4 L600.1,857.4 L602.5,857.5 L605.0,857.5 L607.4,857.6 L609.8,857.6 L612.2,857.6 L614.6,857.6 L617.0,857.6 L619.4,857.6 L621.8,857.6 L624.2,857.6 L626.7,857.6 L629.1,857.6 L631.5,857.6 L633.9,857.6 L636.3,857.6 L638.7,857.6 L641.1,857.6 L643.5,857.6 L645.9,857.6 L648.4,857.6 L650.8,857.6 L653.2,857.6 L655.6,857.6 L658.0,857.6"/>
<path class="ar" fill="#FDE725" d="M130.0,857.6 L132.4,857.6 L134.8,857.6 L137.2,857.6 L139.6,857.6 L142.1,857.6 L144.5,857.6 L146.9,857.6 L149.3,857.6 L151.7,857.6 L154.1,857.6 L156.5,857.6 L158.9,857.6 L161.3,857.5 L163.8,857.5 L166.2,857.5 L168.6,857.5 L171.0,857.4 L173.4,857.4 L175.8,857.3 L178.2,857.2 L180.6,857.0 L183.0,856.9 L185.5,856.7 L187.9,856.5 L190.3,856.2 L192.7,855.9 L195.1,855.6 L197.5,855.1 L199.9,854.4 L202.3,853.7 L204.7,852.9 L207.2,852.1 L209.6,851.1 L212.0,850.0 L214.4,848.7 L216.8,847.2 L219.2,845.5 L221.6,843.6 L224.0,841.3 L226.4,838.7 L228.8,836.0 L231.3,832.9 L233.7,829.5 L236.1,826.0 L238.5,822.3 L240.9,818.7 L243.3,815.1 L245.7,811.6 L248.1,808.3 L250.5,805.1 L253.0,802.1 L255.4,799.3 L257.8,796.7 L260.2,794.2 L262.6,791.9 L265.0,789.7 L267.4,787.6 L269.8,785.7 L272.2,783.7 L274.7,781.8 L277.1,779.8 L279.5,777.7 L281.9,775.5 L284.3,773.2 L286.7,770.8 L289.1,768.3 L291.5,765.7 L293.9,763.1 L296.4,760.3 L298.8,757.6 L301.2,754.9 L303.6,752.2 L306.0,749.6 L308.4,746.7 L310.8,743.5 L313.2,739.8 L315.6,735.6 L318.1,731.1 L320.5,726.5 L322.9,722.2 L325.3,718.1 L327.7,714.3 L330.1,710.9 L332.5,707.9 L334.9,705.3 L337.3,703.1 L339.8,701.4 L342.2,700.1 L344.6,699.2 L347.0,698.7 L349.4,698.8 L351.8,699.4 L354.2,700.5 L356.6,702.2 L359.0,704.3 L361.5,706.8 L363.9,709.7 L366.3,712.9 L368.7,716.0 L371.1,718.9 L373.5,721.6 L375.9,724.0 L378.3,725.9 L380.7,727.3 L383.2,728.1 L385.6,728.3 L388.0,727.9 L390.4,727.0 L392.8,725.6 L395.2,724.1 L397.6,722.7 L400.0,721.5 L402.4,720.6 L404.8,720.1 L407.3,720.1 L409.7,720.6 L412.1,721.7 L414.5,723.5 L416.9,725.8 L419.3,728.8 L421.7,732.1 L424.1,735.8 L426.5,739.6 L429.0,743.5 L431.4,747.3 L433.8,750.9 L436.2,754.2 L438.6,757.2 L441.0,759.8 L443.4,762.2 L445.8,764.4 L448.2,766.4 L450.7,768.3 L453.1,770.1 L455.5,771.8 L457.9,773.6 L460.3,775.4 L462.7,777.2 L465.1,779.0 L467.5,780.9 L469.9,782.7 L472.4,784.6 L474.8,786.4 L477.2,788.2 L479.6,789.9 L482.0,791.5 L484.4,793.0 L486.8,794.4 L489.2,795.7 L491.6,796.7 L494.1,797.5 L496.5,798.1 L498.9,798.6 L501.3,799.0 L503.7,799.3 L506.1,799.7 L508.5,800.2 L510.9,800.9 L513.3,801.8 L515.8,802.9 L518.2,804.3 L520.6,805.8 L523.0,807.5 L525.4,809.3 L527.8,811.3 L530.2,813.3 L532.6,815.3 L535.0,817.2 L537.5,819.2 L539.9,821.0 L542.3,822.8 L544.7,824.5 L547.1,826.1 L549.5,827.6 L551.9,829.0 L554.3,830.2 L556.7,831.4 L559.2,832.5 L561.6,833.5 L564.0,834.4 L566.4,835.2 L568.8,836.0 L571.2,836.7 L573.6,837.4 L576.0,838.1 L578.4,838.8 L580.8,839.5 L583.3,840.3 L585.7,841.2 L588.1,842.2 L590.5,843.2 L592.9,844.3 L595.3,845.5 L597.7,846.8 L600.1,848.0 L602.5,849.2 L605.0,850.2 L607.4,851.2 L609.8,852.1 L612.2,852.8 L614.6,853.5 L617.0,854.1 L619.4,854.6 L621.8,855.0 L624.2,855.4 L626.7,855.7 L629.1,856.0 L631.5,856.2 L633.9,856.4 L636.3,856.6 L638.7,856.7 L641.1,856.8 L643.5,857.0 L645.9,857.1 L648.4,857.2 L650.8,857.3 L653.2,857.4 L655.6,857.4 L658.0,857.5 L658.0,857.6 L130.0,857.6 Z"/>
<path class="ln" stroke="#FDE725" d="M130.0,857.6 L132.4,857.6 L134.8,857.6 L137.2,857.6 L139.6,857.6 L142.1,857.6 L144.5,857.6 L146.9,857.6 L149.3,857.6 L151.7,857.6 L154.1,857.6 L156.5,857.6 L158.9,857.6 L161.3,857.5 L163.8,857.5 L166.2,857.5 L168.6,857.5 L171.0,857.4 L173.4,857.4 L175.8,857.3 L178.2,857.2 L180.6,857.0 L183.0,856.9 L185.5,856.7 L187.9,856.5 L190.3,856.2 L192.7,855.9 L195.1,855.6 L197.5,855.1 L199.9,854.4 L202.3,853.7 L204.7,852.9 L207.2,852.1 L209.6,851.1 L212.0,850.0 L214.4,848.7 L216.8,847.2 L219.2,845.5 L221.6,843.6 L224.0,841.3 L226.4,838.7 L228.8,836.0 L231.3,832.9 L233.7,829.5 L236.1,826.0 L238.5,822.3 L240.9,818.7 L243.3,815.1 L245.7,811.6 L248.1,808.3 L250.5,805.1 L253.0,802.1 L255.4,799.3 L257.8,796.7 L260.2,794.2 L262.6,791.9 L265.0,789.7 L267.4,787.6 L269.8,785.7 L272.2,783.7 L274.7,781.8 L277.1,779.8 L279.5,777.7 L281.9,775.5 L284.3,773.2 L286.7,770.8 L289.1,768.3 L291.5,765.7 L293.9,763.1 L296.4,760.3 L298.8,757.6 L301.2,754.9 L303.6,752.2 L306.0,749.6 L308.4,746.7 L310.8,743.5 L313.2,739.8 L315.6,735.6 L318.1,731.1 L320.5,726.5 L322.9,722.2 L325.3,718.1 L327.7,714.3 L330.1,710.9 L332.5,707.9 L334.9,705.3 L337.3,703.1 L339.8,701.4 L342.2,700.1 L344.6,699.2 L347.0,698.7 L349.4,698.8 L351.8,699.4 L354.2,700.5 L356.6,702.2 L359.0,704.3 L361.5,706.8 L363.9,709.7 L366.3,712.9 L368.7,716.0 L371.1,718.9 L373.5,721.6 L375.9,724.0 L378.3,725.9 L380.7,727.3 L383.2,728.1 L385.6,728.3 L388.0,727.9 L390.4,727.0 L392.8,725.6 L395.2,724.1 L397.6,722.7 L400.0,721.5 L402.4,720.6 L404.8,720.1 L407.3,720.1 L409.7,720.6 L412.1,721.7 L414.5,723.5 L416.9,725.8 L419.3,728.8 L421.7,732.1 L424.1,735.8 L426.5,739.6 L429.0,743.5 L431.4,747.3 L433.8,750.9 L436.2,754.2 L438.6,757.2 L441.0,759.8 L443.4,762.2 L445.8,764.4 L448.2,766.4 L450.7,768.3 L453.1,770.1 L455.5,771.8 L457.9,773.6 L460.3,775.4 L462.7,777.2 L465.1,779.0 L467.5,780.9 L469.9,782.7 L472.4,784.6 L474.8,786.4 L477.2,788.2 L479.6,789.9 L482.0,791.5 L484.4,793.0 L486.8,794.4 L489.2,795.7 L491.6,796.7 L494.1,797.5 L496.5,798.1 L498.9,798.6 L501.3,799.0 L503.7,799.3 L506.1,799.7 L508.5,800.2 L510.9,800.9 L513.3,801.8 L515.8,802.9 L518.2,804.3 L520.6,805.8 L523.0,807.5 L525.4,809.3 L527.8,811.3 L530.2,813.3 L532.6,815.3 L535.0,817.2 L537.5,819.2 L539.9,821.0 L542.3,822.8 L544.7,824.5 L547.1,826.1 L549.5,827.6 L551.9,829.0 L554.3,830.2 L556.7,831.4 L559.2,832.5 L561.6,833.5 L564.0,834.4 L566.4,835.2 L568.8,836.0 L571.2,836.7 L573.6,837.4 L576.0,838.1 L578.4,838.8 L580.8,839.5 L583.3,840.3 L585.7,841.2 L588.1,842.2 L590.5,843.2 L592.9,844.3 L595.3,845.5 L597.7,846.8 L600.1,848.0 L602.5,849.2 L605.0,850.2 L607.4,851.2 L609.8,852.1 L612.2,852.8 L614.6,853.5 L617.0,854.1 L619.4,854.6 L621.8,855.0 L624.2,855.4 L626.7,855.7 L629.1,856.0 L631.5,856.2 L633.9,856.4 L636.3,856.6 L638.7,856.7 L641.1,856.8 L643.5,857.0 L645.9,857.1 L648.4,857.2 L650.8,857.3 L653.2,857.4 L655.6,857.4 L658.0,857.5"/>
<path class="ar" fill="#22A884" d="M130.0,856.0 L132.4,855.7 L134.8,855.3 L137.2,854.8 L139.6,854.3 L142.1,853.8 L144.5,853.1 L146.9,852.4 L149.3,851.7 L151.7,850.9 L154.1,849.9 L156.5,849.0 L158.9,847.9 L161.3,846.7 L163.8,845.4 L166.2,844.1 L168.6,842.6 L171.0,841.0 L173.4,839.2 L175.8,837.3 L178.2,835.2 L180.6,833.0 L183.0,830.7 L185.5,828.2 L187.9,825.6 L190.3,822.9 L192.7,820.1 L195.1,817.0 L197.5,813.8 L199.9,810.3 L202.3,806.7 L204.7,802.9 L207.2,799.0 L209.6,795.0 L212.0,790.8 L214.4,786.5 L216.8,782.2 L219.2,777.8 L221.6,773.3 L224.0,768.8 L226.4,764.2 L228.8,759.8 L231.3,755.3 L233.7,750.9 L236.1,746.6 L238.5,742.5 L240.9,738.5 L243.3,734.7 L245.7,731.2 L248.1,727.8 L250.5,724.6 L253.0,721.7 L255.4,719.0 L257.8,716.6 L260.2,714.4 L262.6,712.6 L265.0,711.1 L267.4,709.9 L269.8,708.9 L272.2,708.1 L274.7,707.6 L277.1,707.3 L279.5,707.3 L281.9,707.7 L284.3,708.4 L286.7,709.3 L289.1,710.5 L291.5,711.9 L293.9,713.5 L296.4,715.5 L298.8,717.8 L301.2,720.3 L303.6,723.0 L306.0,725.8 L308.4,728.7 L310.8,731.7 L313.2,734.9 L315.6,738.1 L318.1,741.3 L320.5,744.6 L322.9,747.8 L325.3,751.0 L327.7,754.2 L330.1,757.2 L332.5,760.2 L334.9,763.0 L337.3,765.7 L339.8,768.3 L342.2,770.7 L344.6,772.9 L347.0,774.9 L349.4,776.8 L351.8,778.4 L354.2,779.9 L356.6,781.2 L359.0,782.3 L361.5,783.3 L363.9,784.2 L366.3,785.0 L368.7,785.6 L371.1,786.1 L373.5,786.5 L375.9,786.9 L378.3,787.1 L380.7,787.3 L383.2,787.3 L385.6,787.3 L388.0,787.2 L390.4,787.1 L392.8,786.9 L395.2,786.7 L397.6,786.4 L400.0,786.1 L402.4,785.8 L404.8,785.5 L407.3,785.2 L409.7,785.0 L412.1,784.8 L414.5,784.6 L416.9,784.5 L419.3,784.5 L421.7,784.5 L424.1,784.5 L426.5,784.5 L429.0,784.6 L431.4,784.7 L433.8,784.9 L436.2,785.2 L438.6,785.5 L441.0,785.9 L443.4,786.3 L445.8,786.7 L448.2,787.2 L450.7,787.8 L453.1,788.3 L455.5,788.9 L457.9,789.5 L460.3,790.1 L462.7,790.7 L465.1,791.3 L467.5,791.9 L469.9,792.6 L472.4,793.2 L474.8,793.8 L477.2,794.4 L479.6,795.0 L482.0,795.5 L484.4,796.2 L486.8,796.9 L489.2,797.6 L491.6,798.4 L494.1,799.3 L496.5,800.2 L498.9,801.1 L501.3,802.0 L503.7,802.9 L506.1,803.8 L508.5,804.9 L510.9,806.0 L513.3,807.2 L515.8,808.5 L518.2,809.8 L520.6,811.3 L523.0,812.7 L525.4,814.3 L527.8,815.9 L530.2,817.5 L532.6,819.2 L535.0,820.8 L537.5,822.5 L539.9,824.3 L542.3,825.9 L544.7,827.6 L547.1,829.3 L549.5,831.0 L551.9,832.7 L554.3,834.4 L556.7,836.1 L559.2,837.8 L561.6,839.4 L564.0,840.8 L566.4,842.2 L568.8,843.5 L571.2,844.8 L573.6,846.0 L576.0,847.1 L578.4,848.1 L580.8,849.1 L583.3,850.1 L585.7,850.9 L588.1,851.8 L590.5,852.5 L592.9,853.1 L595.3,853.7 L597.7,854.2 L600.1,854.6 L602.5,855.0 L605.0,855.4 L607.4,855.7 L609.8,855.9 L612.2,856.1 L614.6,856.3 L617.0,856.5 L619.4,856.7 L621.8,856.8 L624.2,856.9 L626.7,857.0 L629.1,857.1 L631.5,857.2 L633.9,857.3 L636.3,857.3 L638.7,857.4 L641.1,857.5 L643.5,857.5 L645.9,857.6 L648.4,857.6 L650.8,857.6 L653.2,857.6 L655.6,857.6 L658.0,857.6 L658.0,857.6 L130.0,857.6 Z"/>
<path class="ln" stroke="#22A884" d="M130.0,856.0 L132.4,855.7 L134.8,855.3 L137.2,854.8 L139.6,854.3 L142.1,853.8 L144.5,853.1 L146.9,852.4 L149.3,851.7 L151.7,850.9 L154.1,849.9 L156.5,849.0 L158.9,847.9 L161.3,846.7 L163.8,845.4 L166.2,844.1 L168.6,842.6 L171.0,841.0 L173.4,839.2 L175.8,837.3 L178.2,835.2 L180.6,833.0 L183.0,830.7 L185.5,828.2 L187.9,825.6 L190.3,822.9 L192.7,820.1 L195.1,817.0 L197.5,813.8 L199.9,810.3 L202.3,806.7 L204.7,802.9 L207.2,799.0 L209.6,795.0 L212.0,790.8 L214.4,786.5 L216.8,782.2 L219.2,777.8 L221.6,773.3 L224.0,768.8 L226.4,764.2 L228.8,759.8 L231.3,755.3 L233.7,750.9 L236.1,746.6 L238.5,742.5 L240.9,738.5 L243.3,734.7 L245.7,731.2 L248.1,727.8 L250.5,724.6 L253.0,721.7 L255.4,719.0 L257.8,716.6 L260.2,714.4 L262.6,712.6 L265.0,711.1 L267.4,709.9 L269.8,708.9 L272.2,708.1 L274.7,707.6 L277.1,707.3 L279.5,707.3 L281.9,707.7 L284.3,708.4 L286.7,709.3 L289.1,710.5 L291.5,711.9 L293.9,713.5 L296.4,715.5 L298.8,717.8 L301.2,720.3 L303.6,723.0 L306.0,725.8 L308.4,728.7 L310.8,731.7 L313.2,734.9 L315.6,738.1 L318.1,741.3 L320.5,744.6 L322.9,747.8 L325.3,751.0 L327.7,754.2 L330.1,757.2 L332.5,760.2 L334.9,763.0 L337.3,765.7 L339.8,768.3 L342.2,770.7 L344.6,772.9 L347.0,774.9 L349.4,776.8 L351.8,778.4 L354.2,779.9 L356.6,781.2 L359.0,782.3 L361.5,783.3 L363.9,784.2 L366.3,785.0 L368.7,785.6 L371.1,786.1 L373.5,786.5 L375.9,786.9 L378.3,787.1 L380.7,787.3 L383.2,787.3 L385.6,787.3 L388.0,787.2 L390.4,787.1 L392.8,786.9 L395.2,786.7 L397.6,786.4 L400.0,786.1 L402.4,785.8 L404.8,785.5 L407.3,785.2 L409.7,785.0 L412.1,784.8 L414.5,784.6 L416.9,784.5 L419.3,784.5 L421.7,784.5 L424.1,784.5 L426.5,784.5 L429.0,784.6 L431.4,784.7 L433.8,784.9 L436.2,785.2 L438.6,785.5 L441.0,785.9 L443.4,786.3 L445.8,786.7 L448.2,787.2 L450.7,787.8 L453.1,788.3 L455.5,788.9 L457.9,789.5 L460.3,790.1 L462.7,790.7 L465.1,791.3 L467.5,791.9 L469.9,792.6 L472.4,793.2 L474.8,793.8 L477.2,794.4 L479.6,795.0 L482.0,795.5 L484.4,796.2 L486.8,796.9 L489.2,797.6 L491.6,798.4 L494.1,799.3 L496.5,800.2 L498.9,801.1 L501.3,802.0 L503.7,802.9 L506.1,803.8 L508.5,804.9 L510.9,806.0 L513.3,807.2 L515.8,808.5 L518.2,809.8 L520.6,811.3 L523.0,812.7 L525.4,814.3 L527.8,815.9 L530.2,817.5 L532.6,819.2 L535.0,820.8 L537.5,822.5 L539.9,824.3 L542.3,825.9 L544.7,827.6 L547.1,829.3 L549.5,831.0 L551.9,832.7 L554.3,834.4 L556.7,836.1 L559.2,837.8 L561.6,839.4 L564.0,840.8 L566.4,842.2 L568.8,843.5 L571.2,844.8 L573.6,846.0 L576.0,847.1 L578.4,848.1 L580.8,849.1 L583.3,850.1 L585.7,850.9 L588.1,851.8 L590.5,852.5 L592.9,853.1 L595.3,853.7 L597.7,854.2 L600.1,854.6 L602.5,855.0 L605.0,855.4 L607.4,855.7 L609.8,855.9 L612.2,856.1 L614.6,856.3 L617.0,856.5 L619.4,856.7 L621.8,856.8 L624.2,856.9 L626.7,857.0 L629.1,857.1 L631.5,857.2 L633.9,857.3 L636.3,857.3 L638.7,857.4 L641.1,857.5 L643.5,857.5 L645.9,857.6 L648.4,857.6 L650.8,857.6 L653.2,857.6 L655.6,857.6 L658.0,857.6"/>
<rect x="464.8" y="546.9" width="202.3" height="102" fill="#fff"/>
<rect x="478.7" y="574.7" width="17.4" height="19.6" fill="#000"/>
<rect x="482.0" y="578.3" width="10.8" height="12.4" fill="#fff"/>
<rect x="482.0" y="578.3" width="10.8" height="12.4" fill="#440154" fill-opacity=".2"/>
<text class="lg" transform="translate(509.4,592.0) scale(0.975,1)">AN</text>
<rect x="478.7" y="595.1" width="17.4" height="19.6" fill="#000"/>
<rect x="482.0" y="598.7" width="10.8" height="12.4" fill="#fff"/>
<rect x="482.0" y="598.7" width="10.8" height="12.4" fill="#FDE725" fill-opacity=".2"/>
<text class="lg" transform="translate(509.4,612.5) scale(0.975,1)">Menarche</text>
<rect x="478.7" y="615.5" width="17.4" height="19.6" fill="#000"/>
<rect x="482.0" y="619.1" width="10.8" height="12.4" fill="#fff"/>
<rect x="482.0" y="619.1" width="10.8" height="12.4" fill="#22A884" fill-opacity=".2"/>
<text class="lg" transform="translate(509.4,633.0) scale(0.975,1)">AN <tspan class="bar" dx="1.2" dy="-3.4">|</tspan><tspan dx="1.2" dy="3.4"> </tspan>Menarche</text>
</g>
<g id="panelC">
<text class="tg" transform="translate(0.8,995.8) scale(0.93,1)">C</text>
<text class="tt" transform="translate(104.6,1020.4) scale(0.935,1)">BMI and Menarche</text>
<g class="grid"><line x1="129.1" x2="129.1" y1="1035.8" y2="1364.9"/><line x1="260.2" x2="260.2" y1="1035.8" y2="1364.9"/><line x1="391.3" x2="391.3" y1="1035.8" y2="1364.9"/><line x1="522.4" x2="522.4" y1="1035.8" y2="1364.9"/><line x1="653.5" x2="653.5" y1="1035.8" y2="1364.9"/><line x1="98" x2="685" y1="1344.2" y2="1344.2"/><line x1="98" x2="685" y1="1279.0" y2="1279.0"/><line x1="98" x2="685" y1="1213.7" y2="1213.7"/><line x1="98" x2="685" y1="1148.3" y2="1148.3"/><line x1="98" x2="685" y1="1083.0" y2="1083.0"/></g>
<text class="tk" text-anchor="end" transform="translate(92.2,1344.8) scale(0.98,1)">0.0</text>
<text class="tk" text-anchor="end" transform="translate(92.2,1279.5) scale(0.98,1)">0.1</text>
<text class="tk" text-anchor="end" transform="translate(92.2,1214.2) scale(0.98,1)">0.2</text>
<text class="tk" text-anchor="end" transform="translate(92.2,1148.8) scale(0.98,1)">0.3</text>
<text class="tk" text-anchor="end" transform="translate(92.2,1083.5) scale(0.98,1)">0.4</text>
<text class="tk" text-anchor="middle" transform="translate(129.1,1386.2)">−6</text>
<text class="tk" text-anchor="middle" transform="translate(260.2,1386.2)">−3</text>
<text class="tk" text-anchor="middle" transform="translate(391.3,1386.2)">0</text>
<text class="tk" text-anchor="middle" transform="translate(522.4,1386.2)">3</text>
<text class="tk" text-anchor="middle" transform="translate(653.5,1386.2)">6</text>
<text class="ax" text-anchor="end" transform="translate(48.0,1036.1) rotate(-90) scale(0.94,1)">Density</text>
<text class="ax" text-anchor="end" transform="translate(684.3,1423.2) scale(0.94,1)">NSS</text>
<text class="an" transform="translate(210.3,1057.0) scale(0.945,1)">recent selection</text>
<path d="M356.2,1050.5 H387" stroke="#EEA0AC" stroke-width="1.3" fill="none"/>
<path d="M347.2,1050.5 L357.4,1044.6 V1056.5 Z" fill="#EEA0AC"/>
<path class="ar" fill="#7AD151" d="M130.0,1344.2 L132.4,1344.2 L134.8,1344.2 L137.2,1344.2 L139.6,1344.2 L142.1,1344.2 L144.5,1344.2 L146.9,1344.2 L149.3,1344.2 L151.7,1344.2 L154.1,1344.2 L156.5,1344.2 L158.9,1344.2 L161.3,1344.2 L163.8,1344.2 L166.2,1344.2 L168.6,1344.2 L171.0,1344.2 L173.4,1344.2 L175.8,1344.1 L178.2,1344.1 L180.6,1344.0 L183.0,1344.0 L185.5,1343.9 L187.9,1343.7 L190.3,1343.4 L192.7,1343.0 L195.1,1342.6 L197.5,1342.0 L199.9,1341.3 L202.3,1340.5 L204.7,1339.5 L207.2,1338.4 L209.6,1337.2 L212.0,1335.8 L214.4,1334.2 L216.8,1332.5 L219.2,1330.7 L221.6,1328.8 L224.0,1326.7 L226.4,1324.6 L228.8,1322.5 L231.3,1320.2 L233.7,1317.9 L236.1,1315.6 L238.5,1313.1 L240.9,1310.6 L243.3,1308.0 L245.7,1305.3 L248.1,1302.6 L250.5,1299.8 L253.0,1296.9 L255.4,1293.9 L257.8,1290.8 L260.2,1287.5 L262.6,1283.9 L265.0,1280.2 L267.4,1276.3 L269.8,1272.3 L272.2,1268.0 L274.7,1263.1 L277.1,1257.4 L279.5,1251.6 L281.9,1246.2 L284.3,1241.4 L286.7,1237.1 L289.1,1233.2 L291.5,1229.6 L293.9,1226.4 L296.4,1223.5 L298.8,1221.0 L301.2,1218.9 L303.6,1217.1 L306.0,1215.8 L308.4,1214.9 L310.8,1214.4 L313.2,1214.2 L315.6,1214.5 L318.1,1215.1 L320.5,1216.1 L322.9,1217.3 L325.3,1218.7 L327.7,1220.3 L330.1,1222.0 L332.5,1223.7 L334.9,1225.3 L337.3,1226.8 L339.8,1228.1 L342.2,1229.2 L344.6,1230.0 L347.0,1230.6 L349.4,1231.0 L351.8,1231.2 L354.2,1231.4 L356.6,1231.5 L359.0,1231.6 L361.5,1231.6 L363.9,1231.6 L366.3,1231.6 L368.7,1231.6 L371.1,1231.5 L373.5,1231.5 L375.9,1231.6 L378.3,1231.8 L380.7,1232.2 L383.2,1232.9 L385.6,1233.7 L388.0,1234.7 L390.4,1235.9 L392.8,1237.4 L395.2,1239.0 L397.6,1240.8 L400.0,1242.8 L402.4,1244.8 L404.8,1247.0 L407.3,1249.2 L409.7,1251.4 L412.1,1253.5 L414.5,1255.5 L416.9,1257.2 L419.3,1258.9 L421.7,1260.4 L424.1,1261.8 L426.5,1263.0 L429.0,1264.2 L431.4,1265.3 L433.8,1266.4 L436.2,1267.3 L438.6,1268.1 L441.0,1268.8 L443.4,1269.5 L445.8,1270.0 L448.2,1270.6 L450.7,1271.0 L453.1,1271.5 L455.5,1271.9 L457.9,1272.3 L460.3,1272.7 L462.7,1273.2 L465.1,1273.7 L467.5,1274.2 L469.9,1274.6 L472.4,1274.9 L474.8,1275.0 L477.2,1275.1 L479.6,1275.2 L482.0,1275.2 L484.4,1275.1 L486.8,1275.0 L489.2,1274.9 L491.6,1274.7 L494.1,1274.6 L496.5,1274.5 L498.9,1274.6 L501.3,1274.8 L503.7,1275.2 L506.1,1275.7 L508.5,1276.4 L510.9,1277.2 L513.3,1278.2 L515.8,1279.4 L518.2,1280.8 L520.6,1282.4 L523.0,1284.2 L525.4,1286.2 L527.8,1288.3 L530.2,1290.6 L532.6,1293.0 L535.0,1295.7 L537.5,1298.4 L539.9,1301.1 L542.3,1303.8 L544.7,1306.3 L547.1,1308.8 L549.5,1311.1 L551.9,1313.4 L554.3,1315.5 L556.7,1317.5 L559.2,1319.4 L561.6,1321.1 L564.0,1322.6 L566.4,1323.9 L568.8,1325.0 L571.2,1326.1 L573.6,1327.1 L576.0,1328.0 L578.4,1328.8 L580.8,1329.5 L583.3,1330.1 L585.7,1330.6 L588.1,1331.1 L590.5,1331.6 L592.9,1332.2 L595.3,1332.9 L597.7,1333.7 L600.1,1334.5 L602.5,1335.3 L605.0,1336.1 L607.4,1337.0 L609.8,1337.9 L612.2,1338.7 L614.6,1339.5 L617.0,1340.2 L619.4,1340.8 L621.8,1341.4 L624.2,1341.9 L626.7,1342.3 L629.1,1342.7 L631.5,1343.0 L633.9,1343.3 L636.3,1343.5 L638.7,1343.7 L641.1,1343.9 L643.5,1344.0 L645.9,1344.0 L648.4,1344.1 L650.8,1344.1 L653.2,1344.2 L655.6,1344.2 L658.0,1344.2 L658.0,1344.2 L130.0,1344.2 Z"/>
<path class="ln" stroke="#7AD151" d="M130.0,1344.2 L132.4,1344.2 L134.8,1344.2 L137.2,1344.2 L139.6,1344.2 L142.1,1344.2 L144.5,1344.2 L146.9,1344.2 L149.3,1344.2 L151.7,1344.2 L154.1,1344.2 L156.5,1344.2 L158.9,1344.2 L161.3,1344.2 L163.8,1344.2 L166.2,1344.2 L168.6,1344.2 L171.0,1344.2 L173.4,1344.2 L175.8,1344.1 L178.2,1344.1 L180.6,1344.0 L183.0,1344.0 L185.5,1343.9 L187.9,1343.7 L190.3,1343.4 L192.7,1343.0 L195.1,1342.6 L197.5,1342.0 L199.9,1341.3 L202.3,1340.5 L204.7,1339.5 L207.2,1338.4 L209.6,1337.2 L212.0,1335.8 L214.4,1334.2 L216.8,1332.5 L219.2,1330.7 L221.6,1328.8 L224.0,1326.7 L226.4,1324.6 L228.8,1322.5 L231.3,1320.2 L233.7,1317.9 L236.1,1315.6 L238.5,1313.1 L240.9,1310.6 L243.3,1308.0 L245.7,1305.3 L248.1,1302.6 L250.5,1299.8 L253.0,1296.9 L255.4,1293.9 L257.8,1290.8 L260.2,1287.5 L262.6,1283.9 L265.0,1280.2 L267.4,1276.3 L269.8,1272.3 L272.2,1268.0 L274.7,1263.1 L277.1,1257.4 L279.5,1251.6 L281.9,1246.2 L284.3,1241.4 L286.7,1237.1 L289.1,1233.2 L291.5,1229.6 L293.9,1226.4 L296.4,1223.5 L298.8,1221.0 L301.2,1218.9 L303.6,1217.1 L306.0,1215.8 L308.4,1214.9 L310.8,1214.4 L313.2,1214.2 L315.6,1214.5 L318.1,1215.1 L320.5,1216.1 L322.9,1217.3 L325.3,1218.7 L327.7,1220.3 L330.1,1222.0 L332.5,1223.7 L334.9,1225.3 L337.3,1226.8 L339.8,1228.1 L342.2,1229.2 L344.6,1230.0 L347.0,1230.6 L349.4,1231.0 L351.8,1231.2 L354.2,1231.4 L356.6,1231.5 L359.0,1231.6 L361.5,1231.6 L363.9,1231.6 L366.3,1231.6 L368.7,1231.6 L371.1,1231.5 L373.5,1231.5 L375.9,1231.6 L378.3,1231.8 L380.7,1232.2 L383.2,1232.9 L385.6,1233.7 L388.0,1234.7 L390.4,1235.9 L392.8,1237.4 L395.2,1239.0 L397.6,1240.8 L400.0,1242.8 L402.4,1244.8 L404.8,1247.0 L407.3,1249.2 L409.7,1251.4 L412.1,1253.5 L414.5,1255.5 L416.9,1257.2 L419.3,1258.9 L421.7,1260.4 L424.1,1261.8 L426.5,1263.0 L429.0,1264.2 L431.4,1265.3 L433.8,1266.4 L436.2,1267.3 L438.6,1268.1 L441.0,1268.8 L443.4,1269.5 L445.8,1270.0 L448.2,1270.6 L450.7,1271.0 L453.1,1271.5 L455.5,1271.9 L457.9,1272.3 L460.3,1272.7 L462.7,1273.2 L465.1,1273.7 L467.5,1274.2 L469.9,1274.6 L472.4,1274.9 L474.8,1275.0 L477.2,1275.1 L479.6,1275.2 L482.0,1275.2 L484.4,1275.1 L486.8,1275.0 L489.2,1274.9 L491.6,1274.7 L494.1,1274.6 L496.5,1274.5 L498.9,1274.6 L501.3,1274.8 L503.7,1275.2 L506.1,1275.7 L508.5,1276.4 L510.9,1277.2 L513.3,1278.2 L515.8,1279.4 L518.2,1280.8 L520.6,1282.4 L523.0,1284.2 L525.4,1286.2 L527.8,1288.3 L530.2,1290.6 L532.6,1293.0 L535.0,1295.7 L537.5,1298.4 L539.9,1301.1 L542.3,1303.8 L544.7,1306.3 L547.1,1308.8 L549.5,1311.1 L551.9,1313.4 L554.3,1315.5 L556.7,1317.5 L559.2,1319.4 L561.6,1321.1 L564.0,1322.6 L566.4,1323.9 L568.8,1325.0 L571.2,1326.1 L573.6,1327.1 L576.0,1328.0 L578.4,1328.8 L580.8,1329.5 L583.3,1330.1 L585.7,1330.6 L588.1,1331.1 L590.5,1331.6 L592.9,1332.2 L595.3,1332.9 L597.7,1333.7 L600.1,1334.5 L602.5,1335.3 L605.0,1336.1 L607.4,1337.0 L609.8,1337.9 L612.2,1338.7 L614.6,1339.5 L617.0,1340.2 L619.4,1340.8 L621.8,1341.4 L624.2,1341.9 L626.7,1342.3 L629.1,1342.7 L631.5,1343.0 L633.9,1343.3 L636.3,1343.5 L638.7,1343.7 L641.1,1343.9 L643.5,1344.0 L645.9,1344.0 L648.4,1344.1 L650.8,1344.1 L653.2,1344.2 L655.6,1344.2 L658.0,1344.2"/>
<path class="ar" fill="#FDE725" d="M130.0,1344.2 L132.4,1344.2 L134.8,1344.2 L137.2,1344.2 L139.6,1344.2 L142.1,1344.2 L144.5,1344.2 L146.9,1344.2 L149.3,1344.2 L151.7,1344.2 L154.1,1344.2 L156.5,1344.2 L158.9,1344.2 L161.3,1344.2 L163.8,1344.2 L166.2,1344.1 L168.6,1344.1 L171.0,1344.0 L173.4,1343.9 L175.8,1343.7 L178.2,1343.6 L180.6,1343.4 L183.0,1343.1 L185.5,1342.8 L187.9,1342.5 L190.3,1342.0 L192.7,1341.4 L195.1,1340.7 L197.5,1339.9 L199.9,1338.9 L202.3,1337.9 L204.7,1336.7 L207.2,1335.3 L209.6,1333.7 L212.0,1331.7 L214.4,1329.5 L216.8,1326.9 L219.2,1324.0 L221.6,1320.7 L224.0,1317.2 L226.4,1313.3 L228.8,1309.3 L231.3,1305.3 L233.7,1301.4 L236.1,1297.6 L238.5,1294.0 L240.9,1290.5 L243.3,1287.3 L245.7,1284.4 L248.1,1281.6 L250.5,1279.0 L253.0,1276.6 L255.4,1274.3 L257.8,1272.2 L260.2,1270.1 L262.6,1267.9 L265.0,1265.7 L267.4,1263.3 L269.8,1260.9 L272.2,1258.3 L274.7,1255.6 L277.1,1252.8 L279.5,1249.9 L281.9,1246.9 L284.3,1243.9 L286.7,1241.0 L289.1,1238.1 L291.5,1235.0 L293.9,1231.8 L296.4,1227.9 L298.8,1223.5 L301.2,1218.6 L303.6,1213.6 L306.0,1208.8 L308.4,1204.4 L310.8,1200.3 L313.2,1196.7 L315.6,1193.5 L318.1,1190.9 L320.5,1188.8 L322.9,1187.1 L325.3,1186.0 L327.7,1185.4 L330.1,1185.4 L332.5,1186.1 L334.9,1187.4 L337.3,1189.3 L339.8,1191.8 L342.2,1194.7 L344.6,1198.0 L347.0,1201.5 L349.4,1204.8 L351.8,1207.8 L354.2,1210.5 L356.6,1212.6 L359.0,1214.1 L361.5,1214.9 L363.9,1214.9 L366.3,1214.2 L368.7,1213.0 L371.1,1211.4 L373.5,1209.8 L375.9,1208.4 L378.3,1207.3 L380.7,1206.7 L383.2,1206.7 L385.6,1207.4 L388.0,1208.8 L390.4,1210.9 L392.8,1213.7 L395.2,1217.2 L397.6,1221.1 L400.0,1225.3 L402.4,1229.5 L404.8,1233.6 L407.3,1237.6 L409.7,1241.2 L412.1,1244.4 L414.5,1247.3 L416.9,1249.8 L419.3,1252.1 L421.7,1254.2 L424.1,1256.2 L426.5,1258.1 L429.0,1260.0 L431.4,1262.0 L433.8,1264.0 L436.2,1266.0 L438.6,1268.0 L441.0,1270.0 L443.4,1272.1 L445.8,1274.0 L448.2,1276.0 L450.7,1277.8 L453.1,1279.4 L455.5,1281.0 L457.9,1282.4 L460.3,1283.5 L462.7,1284.3 L465.1,1284.9 L467.5,1285.4 L469.9,1285.8 L472.4,1286.2 L474.8,1286.7 L477.2,1287.4 L479.6,1288.3 L482.0,1289.6 L484.4,1291.1 L486.8,1292.8 L489.2,1294.7 L491.6,1296.7 L494.1,1298.9 L496.5,1301.1 L498.9,1303.3 L501.3,1305.4 L503.7,1307.4 L506.1,1309.4 L508.5,1311.2 L510.9,1313.0 L513.3,1314.6 L515.8,1316.1 L518.2,1317.4 L520.6,1318.7 L523.0,1319.8 L525.4,1320.8 L527.8,1321.7 L530.2,1322.6 L532.6,1323.4 L535.0,1324.1 L537.5,1324.9 L539.9,1325.6 L542.3,1326.5 L544.7,1327.4 L547.1,1328.4 L549.5,1329.5 L551.9,1330.7 L554.3,1332.1 L556.7,1333.4 L559.2,1334.8 L561.6,1336.0 L564.0,1337.1 L566.4,1338.2 L568.8,1339.1 L571.2,1339.9 L573.6,1340.5 L576.0,1341.1 L578.4,1341.6 L580.8,1342.0 L583.3,1342.4 L585.7,1342.7 L588.1,1342.9 L590.5,1343.1 L592.9,1343.3 L595.3,1343.4 L597.7,1343.6 L600.1,1343.7 L602.5,1343.8 L605.0,1343.9 L607.4,1344.0 L609.8,1344.1 L612.2,1344.2 L614.6,1344.2 L617.0,1344.2 L619.4,1344.2 L621.8,1344.2 L624.2,1344.2 L626.7,1344.2 L629.1,1344.2 L631.5,1344.2 L633.9,1344.2 L636.3,1344.2 L638.7,1344.2 L641.1,1344.2 L643.5,1344.2 L645.9,1344.2 L648.4,1344.2 L650.8,1344.2 L653.2,1344.2 L655.6,1344.2 L658.0,1344.2 L658.0,1344.2 L130.0,1344.2 Z"/>
<path class="ln" stroke="#FDE725" d="M130.0,1344.2 L132.4,1344.2 L134.8,1344.2 L137.2,1344.2 L139.6,1344.2 L142.1,1344.2 L144.5,1344.2 L146.9,1344.2 L149.3,1344.2 L151.7,1344.2 L154.1,1344.2 L156.5,1344.2 L158.9,1344.2 L161.3,1344.2 L163.8,1344.2 L166.2,1344.1 L168.6,1344.1 L171.0,1344.0 L173.4,1343.9 L175.8,1343.7 L178.2,1343.6 L180.6,1343.4 L183.0,1343.1 L185.5,1342.8 L187.9,1342.5 L190.3,1342.0 L192.7,1341.4 L195.1,1340.7 L197.5,1339.9 L199.9,1338.9 L202.3,1337.9 L204.7,1336.7 L207.2,1335.3 L209.6,1333.7 L212.0,1331.7 L214.4,1329.5 L216.8,1326.9 L219.2,1324.0 L221.6,1320.7 L224.0,1317.2 L226.4,1313.3 L228.8,1309.3 L231.3,1305.3 L233.7,1301.4 L236.1,1297.6 L238.5,1294.0 L240.9,1290.5 L243.3,1287.3 L245.7,1284.4 L248.1,1281.6 L250.5,1279.0 L253.0,1276.6 L255.4,1274.3 L257.8,1272.2 L260.2,1270.1 L262.6,1267.9 L265.0,1265.7 L267.4,1263.3 L269.8,1260.9 L272.2,1258.3 L274.7,1255.6 L277.1,1252.8 L279.5,1249.9 L281.9,1246.9 L284.3,1243.9 L286.7,1241.0 L289.1,1238.1 L291.5,1235.0 L293.9,1231.8 L296.4,1227.9 L298.8,1223.5 L301.2,1218.6 L303.6,1213.6 L306.0,1208.8 L308.4,1204.4 L310.8,1200.3 L313.2,1196.7 L315.6,1193.5 L318.1,1190.9 L320.5,1188.8 L322.9,1187.1 L325.3,1186.0 L327.7,1185.4 L330.1,1185.4 L332.5,1186.1 L334.9,1187.4 L337.3,1189.3 L339.8,1191.8 L342.2,1194.7 L344.6,1198.0 L347.0,1201.5 L349.4,1204.8 L351.8,1207.8 L354.2,1210.5 L356.6,1212.6 L359.0,1214.1 L361.5,1214.9 L363.9,1214.9 L366.3,1214.2 L368.7,1213.0 L371.1,1211.4 L373.5,1209.8 L375.9,1208.4 L378.3,1207.3 L380.7,1206.7 L383.2,1206.7 L385.6,1207.4 L388.0,1208.8 L390.4,1210.9 L392.8,1213.7 L395.2,1217.2 L397.6,1221.1 L400.0,1225.3 L402.4,1229.5 L404.8,1233.6 L407.3,1237.6 L409.7,1241.2 L412.1,1244.4 L414.5,1247.3 L416.9,1249.8 L419.3,1252.1 L421.7,1254.2 L424.1,1256.2 L426.5,1258.1 L429.0,1260.0 L431.4,1262.0 L433.8,1264.0 L436.2,1266.0 L438.6,1268.0 L441.0,1270.0 L443.4,1272.1 L445.8,1274.0 L448.2,1276.0 L450.7,1277.8 L453.1,1279.4 L455.5,1281.0 L457.9,1282.4 L460.3,1283.5 L462.7,1284.3 L465.1,1284.9 L467.5,1285.4 L469.9,1285.8 L472.4,1286.2 L474.8,1286.7 L477.2,1287.4 L479.6,1288.3 L482.0,1289.6 L484.4,1291.1 L486.8,1292.8 L489.2,1294.7 L491.6,1296.7 L494.1,1298.9 L496.5,1301.1 L498.9,1303.3 L501.3,1305.4 L503.7,1307.4 L506.1,1309.4 L508.5,1311.2 L510.9,1313.0 L513.3,1314.6 L515.8,1316.1 L518.2,1317.4 L520.6,1318.7 L523.0,1319.8 L525.4,1320.8 L527.8,1321.7 L530.2,1322.6 L532.6,1323.4 L535.0,1324.1 L537.5,1324.9 L539.9,1325.6 L542.3,1326.5 L544.7,1327.4 L547.1,1328.4 L549.5,1329.5 L551.9,1330.7 L554.3,1332.1 L556.7,1333.4 L559.2,1334.8 L561.6,1336.0 L564.0,1337.1 L566.4,1338.2 L568.8,1339.1 L571.2,1339.9 L573.6,1340.5 L576.0,1341.1 L578.4,1341.6 L580.8,1342.0 L583.3,1342.4 L585.7,1342.7 L588.1,1342.9 L590.5,1343.1 L592.9,1343.3 L595.3,1343.4 L597.7,1343.6 L600.1,1343.7 L602.5,1343.8 L605.0,1343.9 L607.4,1344.0 L609.8,1344.1 L612.2,1344.2 L614.6,1344.2 L617.0,1344.2 L619.4,1344.2 L621.8,1344.2 L624.2,1344.2 L626.7,1344.2 L629.1,1344.2 L631.5,1344.2 L633.9,1344.2 L636.3,1344.2 L638.7,1344.2 L641.1,1344.2 L643.5,1344.2 L645.9,1344.2 L648.4,1344.2 L650.8,1344.2 L653.2,1344.2 L655.6,1344.2 L658.0,1344.2"/>
<path class="ar" fill="#414487" d="M130.0,1344.2 L132.4,1344.2 L134.8,1344.2 L137.2,1344.2 L139.6,1344.2 L142.1,1344.2 L144.5,1344.2 L146.9,1344.2 L149.3,1344.2 L151.7,1344.2 L154.1,1344.2 L156.5,1344.2 L158.9,1344.2 L161.3,1344.2 L163.8,1344.2 L166.2,1344.2 L168.6,1344.2 L171.0,1344.1 L173.4,1344.1 L175.8,1344.0 L178.2,1343.9 L180.6,1343.8 L183.0,1343.7 L185.5,1343.5 L187.9,1343.3 L190.3,1343.1 L192.7,1342.7 L195.1,1342.3 L197.5,1341.8 L199.9,1341.1 L202.3,1340.2 L204.7,1339.3 L207.2,1338.2 L209.6,1336.8 L212.0,1335.3 L214.4,1333.6 L216.8,1331.6 L219.2,1329.4 L221.6,1326.8 L224.0,1323.8 L226.4,1320.6 L228.8,1317.1 L231.3,1313.4 L233.7,1309.4 L236.1,1305.2 L238.5,1300.9 L240.9,1296.6 L243.3,1292.3 L245.7,1288.0 L248.1,1283.7 L250.5,1279.6 L253.0,1275.4 L255.4,1271.4 L257.8,1267.4 L260.2,1263.5 L262.6,1259.7 L265.0,1256.0 L267.4,1252.5 L269.8,1249.1 L272.2,1245.8 L274.7,1242.6 L277.1,1239.5 L279.5,1236.6 L281.9,1233.7 L284.3,1231.0 L286.7,1228.6 L289.1,1226.3 L291.5,1224.3 L293.9,1222.4 L296.4,1220.9 L298.8,1219.6 L301.2,1218.7 L303.6,1218.0 L306.0,1217.5 L308.4,1217.2 L310.8,1217.2 L313.2,1217.5 L315.6,1218.0 L318.1,1218.7 L320.5,1219.6 L322.9,1220.5 L325.3,1221.7 L327.7,1222.8 L330.1,1224.0 L332.5,1225.0 L334.9,1226.0 L337.3,1226.9 L339.8,1227.7 L342.2,1228.2 L344.6,1228.6 L347.0,1228.7 L349.4,1228.8 L351.8,1228.6 L354.2,1228.1 L356.6,1227.4 L359.0,1226.4 L361.5,1225.3 L363.9,1223.9 L366.3,1222.3 L368.7,1220.6 L371.1,1218.9 L373.5,1217.1 L375.9,1215.7 L378.3,1214.6 L380.7,1214.0 L383.2,1213.7 L385.6,1213.7 L388.0,1214.1 L390.4,1214.8 L392.8,1215.9 L395.2,1217.2 L397.6,1218.9 L400.0,1220.9 L402.4,1223.1 L404.8,1225.5 L407.3,1228.0 L409.7,1230.7 L412.1,1233.5 L414.5,1236.3 L416.9,1239.3 L419.3,1242.3 L421.7,1245.3 L424.1,1248.4 L426.5,1251.4 L429.0,1254.5 L431.4,1257.5 L433.8,1260.4 L436.2,1263.3 L438.6,1266.2 L441.0,1268.9 L443.4,1271.6 L445.8,1274.0 L448.2,1276.2 L450.7,1278.2 L453.1,1280.0 L455.5,1281.6 L457.9,1283.0 L460.3,1284.3 L462.7,1285.3 L465.1,1286.3 L467.5,1287.2 L469.9,1288.0 L472.4,1288.8 L474.8,1289.5 L477.2,1290.3 L479.6,1291.0 L482.0,1291.7 L484.4,1292.4 L486.8,1293.2 L489.2,1294.0 L491.6,1294.8 L494.1,1295.6 L496.5,1296.4 L498.9,1297.2 L501.3,1298.0 L503.7,1298.7 L506.1,1299.5 L508.5,1300.2 L510.9,1300.9 L513.3,1301.6 L515.8,1302.4 L518.2,1303.2 L520.6,1304.2 L523.0,1305.4 L525.4,1306.6 L527.8,1307.8 L530.2,1309.1 L532.6,1310.5 L535.0,1311.9 L537.5,1313.4 L539.9,1314.9 L542.3,1316.5 L544.7,1318.1 L547.1,1319.6 L549.5,1321.0 L551.9,1322.4 L554.3,1323.7 L556.7,1325.0 L559.2,1326.2 L561.6,1327.4 L564.0,1328.6 L566.4,1329.6 L568.8,1330.7 L571.2,1331.6 L573.6,1332.5 L576.0,1333.3 L578.4,1334.1 L580.8,1334.8 L583.3,1335.4 L585.7,1336.0 L588.1,1336.6 L590.5,1337.1 L592.9,1337.6 L595.3,1338.1 L597.7,1338.5 L600.1,1339.0 L602.5,1339.4 L605.0,1339.8 L607.4,1340.1 L609.8,1340.5 L612.2,1340.8 L614.6,1341.1 L617.0,1341.4 L619.4,1341.7 L621.8,1342.0 L624.2,1342.3 L626.7,1342.6 L629.1,1342.8 L631.5,1343.0 L633.9,1343.2 L636.3,1343.4 L638.7,1343.6 L641.1,1343.7 L643.5,1343.8 L645.9,1343.9 L648.4,1344.0 L650.8,1344.1 L653.2,1344.1 L655.6,1344.2 L658.0,1344.2 L658.0,1344.2 L130.0,1344.2 Z"/>
<path class="ln" stroke="#414487" d="M130.0,1344.2 L132.4,1344.2 L134.8,1344.2 L137.2,1344.2 L139.6,1344.2 L142.1,1344.2 L144.5,1344.2 L146.9,1344.2 L149.3,1344.2 L151.7,1344.2 L154.1,1344.2 L156.5,1344.2 L158.9,1344.2 L161.3,1344.2 L163.8,1344.2 L166.2,1344.2 L168.6,1344.2 L171.0,1344.1 L173.4,1344.1 L175.8,1344.0 L178.2,1343.9 L180.6,1343.8 L183.0,1343.7 L185.5,1343.5 L187.9,1343.3 L190.3,1343.1 L192.7,1342.7 L195.1,1342.3 L197.5,1341.8 L199.9,1341.1 L202.3,1340.2 L204.7,1339.3 L207.2,1338.2 L209.6,1336.8 L212.0,1335.3 L214.4,1333.6 L216.8,1331.6 L219.2,1329.4 L221.6,1326.8 L224.0,1323.8 L226.4,1320.6 L228.8,1317.1 L231.3,1313.4 L233.7,1309.4 L236.1,1305.2 L238.5,1300.9 L240.9,1296.6 L243.3,1292.3 L245.7,1288.0 L248.1,1283.7 L250.5,1279.6 L253.0,1275.4 L255.4,1271.4 L257.8,1267.4 L260.2,1263.5 L262.6,1259.7 L265.0,1256.0 L267.4,1252.5 L269.8,1249.1 L272.2,1245.8 L274.7,1242.6 L277.1,1239.5 L279.5,1236.6 L281.9,1233.7 L284.3,1231.0 L286.7,1228.6 L289.1,1226.3 L291.5,1224.3 L293.9,1222.4 L296.4,1220.9 L298.8,1219.6 L301.2,1218.7 L303.6,1218.0 L306.0,1217.5 L308.4,1217.2 L310.8,1217.2 L313.2,1217.5 L315.6,1218.0 L318.1,1218.7 L320.5,1219.6 L322.9,1220.5 L325.3,1221.7 L327.7,1222.8 L330.1,1224.0 L332.5,1225.0 L334.9,1226.0 L337.3,1226.9 L339.8,1227.7 L342.2,1228.2 L344.6,1228.6 L347.0,1228.7 L349.4,1228.8 L351.8,1228.6 L354.2,1228.1 L356.6,1227.4 L359.0,1226.4 L361.5,1225.3 L363.9,1223.9 L366.3,1222.3 L368.7,1220.6 L371.1,1218.9 L373.5,1217.1 L375.9,1215.7 L378.3,1214.6 L380.7,1214.0 L383.2,1213.7 L385.6,1213.7 L388.0,1214.1 L390.4,1214.8 L392.8,1215.9 L395.2,1217.2 L397.6,1218.9 L400.0,1220.9 L402.4,1223.1 L404.8,1225.5 L407.3,1228.0 L409.7,1230.7 L412.1,1233.5 L414.5,1236.3 L416.9,1239.3 L419.3,1242.3 L421.7,1245.3 L424.1,1248.4 L426.5,1251.4 L429.0,1254.5 L431.4,1257.5 L433.8,1260.4 L436.2,1263.3 L438.6,1266.2 L441.0,1268.9 L443.4,1271.6 L445.8,1274.0 L448.2,1276.2 L450.7,1278.2 L453.1,1280.0 L455.5,1281.6 L457.9,1283.0 L460.3,1284.3 L462.7,1285.3 L465.1,1286.3 L467.5,1287.2 L469.9,1288.0 L472.4,1288.8 L474.8,1289.5 L477.2,1290.3 L479.6,1291.0 L482.0,1291.7 L484.4,1292.4 L486.8,1293.2 L489.2,1294.0 L491.6,1294.8 L494.1,1295.6 L496.5,1296.4 L498.9,1297.2 L501.3,1298.0 L503.7,1298.7 L506.1,1299.5 L508.5,1300.2 L510.9,1300.9 L513.3,1301.6 L515.8,1302.4 L518.2,1303.2 L520.6,1304.2 L523.0,1305.4 L525.4,1306.6 L527.8,1307.8 L530.2,1309.1 L532.6,1310.5 L535.0,1311.9 L537.5,1313.4 L539.9,1314.9 L542.3,1316.5 L544.7,1318.1 L547.1,1319.6 L549.5,1321.0 L551.9,1322.4 L554.3,1323.7 L556.7,1325.0 L559.2,1326.2 L561.6,1327.4 L564.0,1328.6 L566.4,1329.6 L568.8,1330.7 L571.2,1331.6 L573.6,1332.5 L576.0,1333.3 L578.4,1334.1 L580.8,1334.8 L583.3,1335.4 L585.7,1336.0 L588.1,1336.6 L590.5,1337.1 L592.9,1337.6 L595.3,1338.1 L597.7,1338.5 L600.1,1339.0 L602.5,1339.4 L605.0,1339.8 L607.4,1340.1 L609.8,1340.5 L612.2,1340.8 L614.6,1341.1 L617.0,1341.4 L619.4,1341.7 L621.8,1342.0 L624.2,1342.3 L626.7,1342.6 L629.1,1342.8 L631.5,1343.0 L633.9,1343.2 L636.3,1343.4 L638.7,1343.6 L641.1,1343.7 L643.5,1343.8 L645.9,1343.9 L648.4,1344.0 L650.8,1344.1 L653.2,1344.1 L655.6,1344.2 L658.0,1344.2"/>
<rect x="457.8" y="1033.5" width="211.1" height="102" fill="#fff"/>
<rect x="472.6" y="1061.3" width="17.4" height="19.6" fill="#000"/>
<rect x="475.9" y="1064.9" width="10.8" height="12.4" fill="#fff"/>
<rect x="475.9" y="1064.9" width="10.8" height="12.4" fill="#7AD151" fill-opacity=".2"/>
<text class="lg" transform="translate(503.3,1078.6) scale(0.975,1)">BMI</text>
<rect x="472.6" y="1081.8" width="17.4" height="19.6" fill="#000"/>
<rect x="475.9" y="1085.3" width="10.8" height="12.4" fill="#fff"/>
<rect x="475.9" y="1085.3" width="10.8" height="12.4" fill="#FDE725" fill-opacity=".2"/>
<text class="lg" transform="translate(503.3,1099.1) scale(0.975,1)">Menarche</text>
<rect x="472.6" y="1102.1" width="17.4" height="19.6" fill="#000"/>
<rect x="475.9" y="1105.7" width="10.8" height="12.4" fill="#fff"/>
<rect x="475.9" y="1105.7" width="10.8" height="12.4" fill="#414487" fill-opacity=".2"/>
<text class="lg" transform="translate(503.3,1119.6) scale(0.975,1)">BMI <tspan class="bar" dx="1.2" dy="-3.4">|</tspan><tspan dx="1.2" dy="3.4"> </tspan>Menarche</text>
</g>
</svg></body></html>
